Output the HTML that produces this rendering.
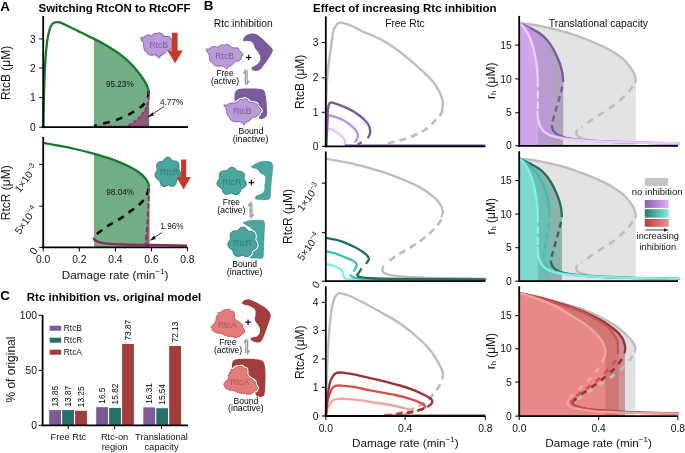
<!DOCTYPE html>
<html><head><meta charset="utf-8"><style>
html,body{margin:0;padding:0;background:#fff;}
svg{display:block;will-change:transform;}
text{font-family:"Liberation Sans", sans-serif;}
</style></head><body>
<svg width="685" height="453" viewBox="0 0 685 453">
<rect width="685" height="453" fill="#fff"/>
<path d="M94.00,38.85 C94.02,38.86 92.40,38.01 94.10,38.90 C95.80,39.79 101.05,42.43 104.20,44.20 C107.35,45.97 110.07,47.60 113.00,49.50 C115.93,51.40 118.85,53.25 121.80,55.60 C124.75,57.95 128.05,60.95 130.70,63.60 C133.35,66.25 135.65,69.00 137.70,71.50 C139.75,74.00 141.52,76.38 143.00,78.60 C144.48,80.82 145.67,82.82 146.60,84.80 C147.53,86.78 148.27,89.55 148.60,90.50 L149.0,91 L149.0,127 L94.0,127 Z" stroke="none" stroke-width="1" fill="#72ad86" />
<path d="M148.60,91.00 C148.57,92.50 148.92,97.00 148.40,100.00 C147.88,103.00 146.90,106.25 145.50,109.00 C144.10,111.75 142.00,114.25 140.00,116.50 C138.00,118.75 135.67,120.88 133.50,122.50 C131.33,124.12 128.08,125.58 127.00,126.20 L149.2,127 L149.2,91 Z" stroke="none" stroke-width="1" fill="#8a5b78" />
<path d="M43.40,127.00 C43.47,122.50 43.60,108.67 43.80,100.00 C44.00,91.33 44.30,82.17 44.60,75.00 C44.90,67.83 45.27,61.83 45.60,57.00 C45.93,52.17 46.27,49.08 46.60,46.00 C46.93,42.92 47.23,40.72 47.60,38.50 C47.97,36.28 48.30,34.65 48.80,32.70 C49.30,30.75 49.87,28.38 50.60,26.80 C51.33,25.22 52.17,23.97 53.20,23.20 C54.23,22.43 55.58,22.30 56.80,22.20 C58.02,22.10 58.50,21.88 60.50,22.60 C62.50,23.32 65.93,25.12 68.80,26.50 C71.67,27.88 74.75,29.43 77.70,30.90 C80.65,32.37 83.77,33.97 86.50,35.30 C89.23,36.63 91.15,37.42 94.10,38.90 C97.05,40.38 101.05,42.43 104.20,44.20 C107.35,45.97 110.07,47.60 113.00,49.50 C115.93,51.40 118.85,53.25 121.80,55.60 C124.75,57.95 128.05,60.95 130.70,63.60 C133.35,66.25 135.65,69.00 137.70,71.50 C139.75,74.00 141.52,76.38 143.00,78.60 C144.48,80.82 145.67,82.82 146.60,84.80 C147.53,86.78 148.27,89.55 148.60,90.50" stroke="#17782f" stroke-width="2.3" fill="none" stroke-linecap="round"/>
<path d="M148.60,91.00 C148.50,92.00 148.57,95.07 148.00,97.00 C147.43,98.93 146.50,100.83 145.20,102.60 C143.90,104.37 142.22,106.03 140.20,107.60 C138.18,109.17 135.22,110.72 133.10,112.00 C130.98,113.28 129.72,114.20 127.50,115.30 C125.28,116.40 122.00,117.67 119.80,118.60 C117.60,119.53 116.50,120.20 114.30,120.90 C112.10,121.60 108.82,122.25 106.60,122.80 C104.38,123.35 103.10,123.67 101.00,124.20 C98.90,124.73 95.17,125.70 94.00,126.00" stroke="#000" stroke-width="2.5" fill="none" stroke-dasharray="6.8 6.5"/>
<path d="M148.60,91.00 C148.57,92.50 148.92,97.00 148.40,100.00 C147.88,103.00 146.90,106.25 145.50,109.00 C144.10,111.75 142.00,114.25 140.00,116.50 C138.00,118.75 135.67,120.88 133.50,122.50 C131.33,124.12 128.08,125.58 127.00,126.20" stroke="#a02f6c" stroke-width="1.8" fill="none" stroke-dasharray="3.5 2"/>
<line x1="93.7" y1="126.2" x2="149" y2="126.2" stroke="#a02f6c" stroke-width="1.0" />
<line x1="149" y1="126.4" x2="188" y2="126.4" stroke="#a02f6c" stroke-width="0.8" />
<line x1="43.2" y1="16" x2="43.2" y2="128.1" stroke="#000" stroke-width="1.8" />
<line x1="39.2" y1="127.2" x2="43.2" y2="127.2" stroke="#000" stroke-width="1.0" />
<text x="35.800000000000004" y="130.8" font-size="10.3" text-anchor="end" font-weight="normal" fill="#111" >0</text>
<line x1="39.2" y1="97.6" x2="43.2" y2="97.6" stroke="#000" stroke-width="1.0" />
<text x="35.800000000000004" y="101.19999999999999" font-size="10.3" text-anchor="end" font-weight="normal" fill="#111" >1</text>
<line x1="39.2" y1="68" x2="43.2" y2="68" stroke="#000" stroke-width="1.0" />
<text x="35.800000000000004" y="71.6" font-size="10.3" text-anchor="end" font-weight="normal" fill="#111" >2</text>
<line x1="39.2" y1="38.9" x2="43.2" y2="38.9" stroke="#000" stroke-width="1.0" />
<text x="35.800000000000004" y="42.5" font-size="10.3" text-anchor="end" font-weight="normal" fill="#111" >3</text>
<line x1="42.300000000000004" y1="127.2" x2="188" y2="127.2" stroke="#000" stroke-width="1.8" />
<text x="9.8" y="73.0" font-size="12" text-anchor="middle" fill="#111" transform="rotate(-90 9.8 73.0)">RtcB (μM)</text>
<text x="38.5" y="12" font-size="11.5" text-anchor="start" font-weight="bold" fill="#000" >Switching RtcON to RtcOFF</text>
<text x="0.3" y="10.9" font-size="13.4" text-anchor="start" font-weight="bold" fill="#000" >A</text>
<text x="119.8" y="87.3" font-size="8.2" text-anchor="middle" font-weight="normal" fill="#111" >95.23%</text>
<text x="160" y="104.6" font-size="8.2" text-anchor="start" font-weight="normal" fill="#111" >4.77%</text>
<line x1="164" y1="106.5" x2="150" y2="115.8" stroke="#000" stroke-width="0.8" />
<path d="M147.5,117.3 L152.6,112.2 L153.6,115.4 Z" stroke="none" stroke-width="1" fill="#000" />
<path d="M94.00,153.82 C96.68,154.64 104.50,156.72 110.10,158.70 C115.70,160.68 122.93,163.52 127.60,165.70 C132.27,167.88 135.18,169.77 138.10,171.80 C141.02,173.83 143.43,176.03 145.10,177.90 C146.77,179.77 147.45,181.38 148.10,183.00 C148.75,184.62 148.85,186.83 149.00,187.60 L149.2,247.4 L94.0,247.4 Z" stroke="none" stroke-width="1" fill="#72ad86" />
<path d="M149.00,188.00 C148.90,190.83 148.65,199.33 148.40,205.00 C148.15,210.67 147.83,217.00 147.50,222.00 C147.17,227.00 146.75,231.03 146.40,235.00 C146.05,238.97 145.57,244.00 145.40,245.80 L145.2,247.4 L149.4,247.4 L149.4,188 Z" stroke="none" stroke-width="1" fill="#8a5b78" />
<path d="M43.50,142.90 C45.83,143.33 52.25,144.48 57.50,145.50 C62.75,146.52 69.15,147.68 75.00,149.00 C80.85,150.32 86.75,151.78 92.60,153.40 C98.45,155.02 104.27,156.65 110.10,158.70 C115.93,160.75 122.93,163.52 127.60,165.70 C132.27,167.88 135.18,169.77 138.10,171.80 C141.02,173.83 143.43,176.03 145.10,177.90 C146.77,179.77 147.45,181.38 148.10,183.00 C148.75,184.62 148.85,186.83 149.00,187.60" stroke="#17782f" stroke-width="2.3" fill="none" />
<path d="M148.80,188.50 C148.47,189.55 147.65,192.87 146.80,194.80 C145.95,196.73 145.12,198.32 143.70,200.10 C142.28,201.88 140.23,203.83 138.30,205.50 C136.37,207.17 134.03,208.68 132.10,210.10 C130.17,211.52 128.50,212.70 126.70,214.00 C124.90,215.30 123.23,216.62 121.30,217.90 C119.37,219.18 117.03,220.55 115.10,221.70 C113.17,222.85 111.50,223.63 109.70,224.80 C107.90,225.97 105.97,227.53 104.30,228.70 C102.63,229.87 101.33,230.58 99.70,231.80 C98.07,233.02 95.53,235.05 94.50,236.00 C93.47,236.95 93.67,237.25 93.50,237.50" stroke="#000" stroke-width="2.5" fill="none" stroke-dasharray="6.8 6"/>
<path d="M93.60,237.50 C93.83,237.95 94.02,239.40 95.00,240.20 C95.98,241.00 97.50,241.73 99.50,242.30 C101.50,242.87 102.75,243.23 107.00,243.60 C111.25,243.97 117.83,244.27 125.00,244.50 C132.17,244.73 139.67,244.82 150.00,245.00 C160.33,245.18 180.83,245.50 187.00,245.60" stroke="#8c2c62" stroke-width="2.4" fill="none" />
<path d="M149.00,188.00 C148.90,190.83 148.65,199.33 148.40,205.00 C148.15,210.67 147.83,217.00 147.50,222.00 C147.17,227.00 146.75,231.03 146.40,235.00 C146.05,238.97 145.57,244.00 145.40,245.80" stroke="#962c68" stroke-width="2.0" fill="none" stroke-dasharray="5 2.8"/>
<line x1="43.2" y1="137" x2="43.2" y2="248.3" stroke="#000" stroke-width="1.8" />
<line x1="39.2" y1="247.4" x2="43.2" y2="247.4" stroke="#000" stroke-width="1.0" />
<line x1="39.2" y1="206.2" x2="43.2" y2="206.2" stroke="#000" stroke-width="1.0" />
<line x1="39.2" y1="164.4" x2="43.2" y2="164.4" stroke="#000" stroke-width="1.0" />
<line x1="42.300000000000004" y1="247.4" x2="187.5" y2="247.4" stroke="#000" stroke-width="1.8" />
<line x1="43.2" y1="247.4" x2="43.2" y2="251.4" stroke="#000" stroke-width="1.0" />
<text x="43.2" y="262.9" font-size="10.3" text-anchor="middle" font-weight="normal" fill="#111" >0.0</text>
<line x1="79.3" y1="247.4" x2="79.3" y2="251.4" stroke="#000" stroke-width="1.0" />
<text x="79.3" y="262.9" font-size="10.3" text-anchor="middle" font-weight="normal" fill="#111" >0.2</text>
<line x1="115.4" y1="247.4" x2="115.4" y2="251.4" stroke="#000" stroke-width="1.0" />
<text x="115.4" y="262.9" font-size="10.3" text-anchor="middle" font-weight="normal" fill="#111" >0.4</text>
<line x1="151.5" y1="247.4" x2="151.5" y2="251.4" stroke="#000" stroke-width="1.0" />
<text x="151.5" y="262.9" font-size="10.3" text-anchor="middle" font-weight="normal" fill="#111" >0.6</text>
<line x1="187.4" y1="247.4" x2="187.4" y2="251.4" stroke="#000" stroke-width="1.0" />
<text x="187.4" y="262.9" font-size="10.3" text-anchor="middle" font-weight="normal" fill="#111" >0.8</text>
<text x="10.3" y="192.8" font-size="12" text-anchor="middle" fill="#111" transform="rotate(-90 10.3 192.8)">RtcR (μM)</text>
<text x="38" y="167.5" font-size="10.3" text-anchor="end" fill="#111" transform="rotate(-55 38 167.5)">1×10<tspan font-size="7.2" dy="-4">−3</tspan></text>
<text x="38" y="209.3" font-size="10.3" text-anchor="end" fill="#111" transform="rotate(-55 38 209.3)">5×10<tspan font-size="7.2" dy="-4">−4</tspan></text>
<text x="38" y="250.5" font-size="10.3" text-anchor="end" fill="#111" transform="rotate(-55 38 250.5)">0<tspan font-size="7.2" dy="-4"></tspan></text>
<text x="115" y="278.5" font-size="11.7" text-anchor="middle" fill="#111">Damage rate (min<tspan font-size="8" dy="-4.5">−1</tspan><tspan dy="4.5">)</tspan></text>
<text x="120.2" y="195.4" font-size="8.2" text-anchor="middle" font-weight="normal" fill="#111" >98.04%</text>
<text x="160.3" y="228.6" font-size="8.2" text-anchor="start" font-weight="normal" fill="#111" >1.96%</text>
<line x1="162" y1="232.5" x2="152" y2="239.2" stroke="#000" stroke-width="0.8" />
<path d="M149.6,240.8 L154.3,235.6 L155.6,238.9 Z" stroke="none" stroke-width="1" fill="#000" />
<rect x="49.20" y="410.06" width="11.8" height="15.24" fill="#7e5a98"/>
<text x="57.90" y="406.56" font-size="8.3" text-anchor="start" fill="#000" transform="rotate(-90 57.90 406.56)">13.85</text>
<rect x="62.15" y="410.04" width="11.8" height="15.26" fill="#26706a"/>
<text x="70.85" y="406.54" font-size="8.3" text-anchor="start" fill="#000" transform="rotate(-90 70.85 406.54)">13.87</text>
<rect x="75.10" y="410.73" width="11.8" height="14.57" fill="#a23d3c"/>
<text x="83.80" y="407.23" font-size="8.3" text-anchor="start" fill="#000" transform="rotate(-90 83.80 407.23)">13.25</text>
<rect x="96.20" y="407.15" width="11.8" height="18.15" fill="#7e5a98"/>
<text x="104.90" y="403.65" font-size="8.3" text-anchor="start" fill="#000" transform="rotate(-90 104.90 403.65)">16.5</text>
<rect x="109.15" y="407.90" width="11.8" height="17.40" fill="#26706a"/>
<text x="117.85" y="404.40" font-size="8.3" text-anchor="start" fill="#000" transform="rotate(-90 117.85 404.40)">15.82</text>
<rect x="122.10" y="344.04" width="11.8" height="81.26" fill="#a23d3c"/>
<text x="130.80" y="340.54" font-size="8.3" text-anchor="start" fill="#000" transform="rotate(-90 130.80 340.54)">73.87</text>
<rect x="143.30" y="407.36" width="11.8" height="17.94" fill="#7e5a98"/>
<text x="152.00" y="403.86" font-size="8.3" text-anchor="start" fill="#000" transform="rotate(-90 152.00 403.86)">16.31</text>
<rect x="156.25" y="408.21" width="11.8" height="17.09" fill="#26706a"/>
<text x="164.95" y="404.71" font-size="8.3" text-anchor="start" fill="#000" transform="rotate(-90 164.95 404.71)">15.54</text>
<rect x="169.20" y="345.96" width="11.8" height="79.34" fill="#a23d3c"/>
<text x="177.90" y="342.46" font-size="8.3" text-anchor="start" fill="#000" transform="rotate(-90 177.90 342.46)">72.13</text>
<line x1="42.6" y1="315" x2="42.6" y2="426.2" stroke="#000" stroke-width="1.8" />
<line x1="38.6" y1="425.3" x2="42.6" y2="425.3" stroke="#000" stroke-width="1.0" />
<text x="37.0" y="428.90000000000003" font-size="10.3" text-anchor="end" font-weight="normal" fill="#111" >0</text>
<line x1="38.6" y1="370.3" x2="42.6" y2="370.3" stroke="#000" stroke-width="1.0" />
<text x="37.0" y="373.90000000000003" font-size="10.3" text-anchor="end" font-weight="normal" fill="#111" >50</text>
<line x1="38.6" y1="315.3" x2="42.6" y2="315.3" stroke="#000" stroke-width="1.0" />
<text x="37.0" y="318.90000000000003" font-size="10.3" text-anchor="end" font-weight="normal" fill="#111" >100</text>
<line x1="41.7" y1="425.3" x2="188" y2="425.3" stroke="#000" stroke-width="1.8" />
<line x1="68.3" y1="425.3" x2="68.3" y2="429" stroke="#000" stroke-width="1.0" />
<line x1="114.6" y1="425.3" x2="114.6" y2="429" stroke="#000" stroke-width="1.0" />
<line x1="161.5" y1="425.3" x2="161.5" y2="429" stroke="#000" stroke-width="1.0" />
<text x="68.3" y="440" font-size="9.3" text-anchor="middle" font-weight="normal" fill="#111" >Free Rtc</text>
<text x="114.6" y="440" font-size="9.3" text-anchor="middle" font-weight="normal" fill="#111" >Rtc-on</text>
<text x="114.6" y="450.2" font-size="9.3" text-anchor="middle" font-weight="normal" fill="#111" >region</text>
<text x="161.5" y="440" font-size="9.3" text-anchor="middle" font-weight="normal" fill="#111" >Translational</text>
<text x="161.5" y="450.2" font-size="9.3" text-anchor="middle" font-weight="normal" fill="#111" >capacity</text>
<text x="15.3" y="369.6" font-size="12" text-anchor="middle" fill="#111" transform="rotate(-90 15.3 369.6)">% of original</text>
<text x="26.8" y="300.9" font-size="11.5" text-anchor="start" font-weight="bold" fill="#000" >Rtc inhibition vs. original model</text>
<text x="0.3" y="299.8" font-size="13.4" text-anchor="start" font-weight="bold" fill="#000" >C</text>
<rect x="49.7" y="325.7" width="11.5" height="5" fill="#7e5a98"/>
<text x="63.8" y="331.09999999999997" font-size="8.4" text-anchor="start" font-weight="normal" fill="#111" >RtcB</text>
<rect x="49.7" y="337.7" width="11.5" height="5" fill="#26706a"/>
<text x="63.8" y="343.09999999999997" font-size="8.4" text-anchor="start" font-weight="normal" fill="#111" >RtcR</text>
<rect x="49.7" y="349.7" width="11.5" height="5" fill="#a23d3c"/>
<text x="63.8" y="355.09999999999997" font-size="8.4" text-anchor="start" font-weight="normal" fill="#111" >RtcA</text>
<path d="M325.80,146.00 C325.83,140.00 325.90,118.67 326.00,110.00 C326.10,101.33 326.12,100.33 326.40,94.00 C326.68,87.67 327.12,78.50 327.70,72.00 C328.28,65.50 329.23,60.08 329.90,55.00 C330.57,49.92 331.18,45.22 331.70,41.50 C332.22,37.78 332.42,35.20 333.00,32.70 C333.58,30.20 334.23,28.12 335.20,26.50 C336.17,24.88 337.62,23.62 338.80,23.00 C339.98,22.38 340.68,22.52 342.30,22.80 C343.92,23.08 346.28,23.87 348.50,24.70 C350.72,25.53 353.35,26.70 355.60,27.80 C357.85,28.90 358.00,29.47 362.00,31.30 C366.00,33.13 374.10,35.97 379.60,38.80 C385.10,41.63 390.03,44.82 395.00,48.30 C399.97,51.78 404.90,55.98 409.40,59.70 C413.90,63.42 418.03,66.88 422.00,70.60 C425.97,74.32 430.28,78.43 433.20,82.00 C436.12,85.57 437.97,89.00 439.50,92.00 C441.03,95.00 441.85,97.83 442.40,100.00 C442.95,102.17 442.83,103.50 442.80,105.00 C442.77,106.50 442.30,108.33 442.20,109.00" stroke="#bdbdbd" stroke-width="2.35" fill="none" stroke-linecap="round" stroke-linejoin="round"/>
<path d="M442.50,109.60 C442.00,110.75 440.92,114.52 439.50,116.50 C438.08,118.48 435.82,119.72 434.00,121.50 C432.18,123.28 431.32,125.15 428.60,127.20 C425.88,129.25 421.80,131.80 417.70,133.80 C413.60,135.80 408.45,137.73 404.00,139.20 C399.55,140.67 394.67,141.67 391.00,142.60 C387.33,143.53 383.50,144.43 382.00,144.80" stroke="#bdbdbd" stroke-width="2.6" fill="none" stroke-dasharray="7 5"/>
<path d="M326.20,146.00 C326.33,143.83 326.70,135.78 327.00,133.00 C327.30,130.22 327.40,129.95 328.00,129.30 C328.60,128.65 329.28,128.70 330.60,129.10 C331.92,129.50 334.13,130.60 335.90,131.70 C337.67,132.80 339.77,134.37 341.20,135.70 C342.63,137.03 343.88,138.27 344.50,139.70 C345.12,141.13 344.83,143.53 344.90,144.30" stroke="#e6c6fa" stroke-width="2.35" fill="none" stroke-linecap="round" stroke-linejoin="round"/>
<path d="M326.20,146.00 C326.33,143.00 326.77,132.67 327.00,128.00 C327.23,123.33 327.17,120.08 327.60,118.00 C328.03,115.92 328.22,115.63 329.60,115.50 C330.98,115.37 333.53,116.37 335.90,117.20 C338.27,118.03 341.37,119.18 343.80,120.50 C346.23,121.82 348.50,123.45 350.50,125.10 C352.50,126.75 354.60,128.85 355.80,130.40 C357.00,131.95 357.42,133.22 357.70,134.40 C357.98,135.58 357.87,136.28 357.50,137.50 C357.13,138.72 355.83,141.00 355.50,141.70" stroke="#c08ae8" stroke-width="2.35" fill="none" stroke-linecap="round" stroke-linejoin="round"/>
<path d="M326.20,146.00 C326.37,142.50 326.93,130.80 327.20,125.00 C327.47,119.20 327.53,114.57 327.80,111.20 C328.07,107.83 328.33,106.23 328.80,104.80 C329.27,103.37 329.87,102.93 330.60,102.60 C331.33,102.27 331.65,102.37 333.20,102.80 C334.75,103.23 337.68,104.35 339.90,105.20 C342.12,106.05 344.30,106.90 346.50,107.90 C348.70,108.90 350.90,109.88 353.10,111.20 C355.30,112.52 357.72,114.25 359.70,115.80 C361.68,117.35 363.45,118.83 365.00,120.50 C366.55,122.17 368.13,124.03 369.00,125.80 C369.87,127.57 370.08,129.67 370.20,131.10 C370.32,132.53 370.02,133.35 369.70,134.40 C369.38,135.45 368.53,136.90 368.30,137.40" stroke="#7b589d" stroke-width="2.35" fill="none" stroke-linecap="round" stroke-linejoin="round"/>
<path d="M357.7,144.6 L361.7,142.2" stroke="#7b589d" stroke-width="2.35" fill="none" stroke-dasharray="6 3"/>
<line x1="345" y1="145.2" x2="485.3" y2="145.2" stroke="#6a4a88" stroke-width="1.6" />
<line x1="325.8" y1="16.4" x2="325.8" y2="147.20000000000002" stroke="#000" stroke-width="1.8" />
<line x1="321.8" y1="146.3" x2="325.8" y2="146.3" stroke="#000" stroke-width="1.0" />
<text x="318.40000000000003" y="149.9" font-size="10.3" text-anchor="end" font-weight="normal" fill="#111" >0</text>
<line x1="321.8" y1="112.3" x2="325.8" y2="112.3" stroke="#000" stroke-width="1.0" />
<text x="318.40000000000003" y="115.89999999999999" font-size="10.3" text-anchor="end" font-weight="normal" fill="#111" >1</text>
<line x1="321.8" y1="77.8" x2="325.8" y2="77.8" stroke="#000" stroke-width="1.0" />
<text x="318.40000000000003" y="81.39999999999999" font-size="10.3" text-anchor="end" font-weight="normal" fill="#111" >2</text>
<line x1="321.8" y1="42.5" x2="325.8" y2="42.5" stroke="#000" stroke-width="1.0" />
<text x="318.40000000000003" y="46.1" font-size="10.3" text-anchor="end" font-weight="normal" fill="#111" >3</text>
<line x1="324.90000000000003" y1="146.3" x2="485.3" y2="146.3" stroke="#000" stroke-width="1.8" />
<text x="304.5" y="81.8" font-size="12" text-anchor="middle" fill="#111" transform="rotate(-90 304.5 81.8)">RtcB (μM)</text>
<text x="404.9" y="26.9" font-size="10.3" text-anchor="middle" font-weight="normal" fill="#111" >Free Rtc</text>
<text x="313.1" y="12" font-size="11.5" text-anchor="start" font-weight="bold" fill="#000" >Effect of increasing Rtc inhibition</text>
<text x="203.8" y="10.0" font-size="13.4" text-anchor="start" font-weight="bold" fill="#000" >B</text>
<path d="M325.80,158.90 C329.83,159.62 340.97,161.15 350.00,163.20 C359.03,165.25 371.67,168.68 380.00,171.20 C388.33,173.72 393.33,175.60 400.00,178.30 C406.67,181.00 414.50,184.38 420.00,187.40 C425.50,190.42 429.67,193.63 433.00,196.40 C436.33,199.17 438.40,201.73 440.00,204.00 C441.60,206.27 442.18,208.33 442.60,210.00 C443.02,211.67 442.68,212.92 442.50,214.00 C442.32,215.08 441.67,216.08 441.50,216.50" stroke="#bdbdbd" stroke-width="2.35" fill="none" stroke-linecap="round" stroke-linejoin="round"/>
<path d="M441.50,219.50 C440.72,220.58 438.85,223.62 436.80,226.00 C434.75,228.38 431.88,231.35 429.20,233.80 C426.52,236.25 423.98,238.35 420.70,240.70 C417.42,243.05 413.45,245.43 409.50,247.90 C405.55,250.37 400.75,253.07 397.00,255.50 C393.25,257.93 388.67,261.33 387.00,262.50" stroke="#bdbdbd" stroke-width="2.6" fill="none" stroke-dasharray="7 5"/>
<path d="M383.10,266.50 C382.98,267.13 382.08,269.17 382.40,270.30 C382.72,271.43 382.90,272.38 385.00,273.30 C387.10,274.22 389.17,275.12 395.00,275.80 C400.83,276.48 410.83,277.00 420.00,277.40 C429.17,277.80 439.17,277.93 450.00,278.20 C460.83,278.47 479.17,278.87 485.00,279.00" stroke="#bdbdbd" stroke-width="2.35" fill="none" stroke-linecap="round" stroke-linejoin="round"/>
<path d="M326.00,264.00 C327.17,264.25 330.75,264.75 333.00,265.50 C335.25,266.25 337.90,267.50 339.50,268.50 C341.10,269.50 341.95,270.38 342.60,271.50 C343.25,272.62 342.92,274.07 343.40,275.20 C343.88,276.33 344.07,277.62 345.50,278.30 C346.93,278.98 342.92,279.07 352.00,279.30 C361.08,279.53 377.83,279.62 400.00,279.70 C422.17,279.78 470.83,279.78 485.00,279.80" stroke="#82efe7" stroke-width="2.35" fill="none" stroke-linecap="round" stroke-linejoin="round"/>
<path d="M326.00,251.20 C327.50,251.57 331.83,252.38 335.00,253.40 C338.17,254.42 342.17,256.15 345.00,257.30 C347.83,258.45 350.12,259.25 352.00,260.30 C353.88,261.35 355.63,262.45 356.30,263.60 C356.97,264.75 356.38,266.03 356.00,267.20 C355.62,268.37 354.33,270.03 354.00,270.60" stroke="#3ebfb3" stroke-width="2.35" fill="none" stroke-linecap="round" stroke-linejoin="round"/>
<path d="M350.50,275.30 C351.08,275.65 352.08,276.85 354.00,277.40 C355.92,277.95 354.33,278.30 362.00,278.60 C369.67,278.90 379.50,279.03 400.00,279.20 C420.50,279.37 470.83,279.53 485.00,279.60" stroke="#3ebfb3" stroke-width="2.35" fill="none" stroke-linecap="round" stroke-linejoin="round"/>
<path d="M326.00,237.90 C328.33,238.40 335.17,239.33 340.00,240.90 C344.83,242.47 351.25,245.48 355.00,247.30 C358.75,249.12 360.42,250.35 362.50,251.80 C364.58,253.25 366.45,254.72 367.50,256.00 C368.55,257.28 368.97,258.33 368.80,259.50 C368.63,260.67 366.88,262.42 366.50,263.00" stroke="#226e66" stroke-width="2.35" fill="none" stroke-linecap="round" stroke-linejoin="round"/>
<path d="M357.00,275.00 C357.50,275.37 357.83,276.67 360.00,277.20 C362.17,277.73 363.33,277.92 370.00,278.20 C376.67,278.48 380.83,278.70 400.00,278.90 C419.17,279.10 470.83,279.32 485.00,279.40" stroke="#226e66" stroke-width="2.35" fill="none" stroke-linecap="round" stroke-linejoin="round"/>
<path d="M361.5,268.3 L357.6,274.8" stroke="#226e66" stroke-width="2.35" fill="none" stroke-dasharray="7 3"/>
<line x1="325.8" y1="151.5" x2="325.8" y2="282.09999999999997" stroke="#000" stroke-width="1.8" />
<line x1="321.8" y1="281.2" x2="325.8" y2="281.2" stroke="#000" stroke-width="1.0" />
<line x1="321.8" y1="232.7" x2="325.8" y2="232.7" stroke="#000" stroke-width="1.0" />
<line x1="321.8" y1="183.2" x2="325.8" y2="183.2" stroke="#000" stroke-width="1.0" />
<line x1="324.90000000000003" y1="281.2" x2="485.3" y2="281.2" stroke="#000" stroke-width="1.8" />
<text x="291.8" y="216.5" font-size="12" text-anchor="middle" fill="#111" transform="rotate(-90 291.8 216.5)">RtcR (μM)</text>
<text x="320.5" y="186.3" font-size="10.3" text-anchor="end" fill="#111" transform="rotate(-55 320.5 186.3)">1×10<tspan font-size="7.2" dy="-4">−3</tspan></text>
<text x="320.5" y="235.8" font-size="10.3" text-anchor="end" fill="#111" transform="rotate(-55 320.5 235.8)">5×10<tspan font-size="7.2" dy="-4">−4</tspan></text>
<text x="320.5" y="284.3" font-size="10.3" text-anchor="end" fill="#111" transform="rotate(-55 320.5 284.3)">0<tspan font-size="7.2" dy="-4"></tspan></text>
<path d="M325.80,416.00 C325.88,412.50 326.02,404.33 326.30,395.00 C326.58,385.67 326.97,371.17 327.50,360.00 C328.03,348.83 328.75,336.83 329.50,328.00 C330.25,319.17 331.08,312.17 332.00,307.00 C332.92,301.83 334.00,299.23 335.00,297.00 C336.00,294.77 337.00,294.22 338.00,293.60 C339.00,292.98 339.00,292.90 341.00,293.30 C343.00,293.70 346.00,294.30 350.00,296.00 C354.00,297.70 360.00,300.87 365.00,303.50 C370.00,306.13 374.17,308.47 380.00,311.80 C385.83,315.13 393.33,318.88 400.00,323.50 C406.67,328.12 414.67,334.67 420.00,339.50 C425.33,344.33 428.83,348.42 432.00,352.50 C435.17,356.58 437.27,360.92 439.00,364.00 C440.73,367.08 441.77,369.17 442.40,371.00 C443.03,372.83 442.82,373.75 442.80,375.00 C442.78,376.25 442.38,377.92 442.30,378.50" stroke="#bdbdbd" stroke-width="2.35" fill="none" stroke-linecap="round" stroke-linejoin="round"/>
<path d="M440.30,384.50 C439.67,385.42 438.55,387.42 436.50,390.00 C434.45,392.58 431.25,397.17 428.00,400.00 C424.75,402.83 421.17,405.00 417.00,407.00 C412.83,409.00 407.50,410.73 403.00,412.00 C398.50,413.27 393.50,414.02 390.00,414.60 C386.50,415.18 383.33,415.35 382.00,415.50" stroke="#bdbdbd" stroke-width="2.6" fill="none" stroke-dasharray="7 5"/>
<path d="M325.90,416.00 C326.13,414.83 326.62,411.05 327.30,409.00 C327.98,406.95 328.90,405.23 330.00,403.70 C331.10,402.17 332.37,400.62 333.90,399.80 C335.43,398.98 336.77,398.92 339.20,398.80 C341.63,398.68 344.75,398.83 348.50,399.10 C352.25,399.37 358.12,399.95 361.70,400.40 C365.28,400.85 365.28,401.03 370.00,401.80 C374.72,402.57 384.50,404.00 390.00,405.00 C395.50,406.00 399.58,407.00 403.00,407.80 C406.42,408.60 408.93,409.22 410.50,409.80 C412.07,410.38 412.48,410.80 412.40,411.30 C412.32,411.80 411.23,412.38 410.00,412.80 C408.77,413.22 405.83,413.63 405.00,413.80" stroke="#f7a2a2" stroke-width="2.35" fill="none" stroke-linecap="round" stroke-linejoin="round"/>
<path d="M325.90,416.00 C326.13,413.73 326.62,406.22 327.30,402.40 C327.98,398.58 329.12,395.53 330.00,393.10 C330.88,390.67 331.50,389.03 332.60,387.80 C333.70,386.57 335.05,386.07 336.60,385.70 C338.15,385.33 338.82,385.35 341.90,385.60 C344.98,385.85 351.80,386.72 355.10,387.20 C358.40,387.68 359.22,387.98 361.70,388.50 C364.18,389.02 364.45,389.22 370.00,390.30 C375.55,391.38 388.33,393.58 395.00,395.00 C401.67,396.42 405.83,397.53 410.00,398.80 C414.17,400.07 417.53,401.43 420.00,402.60 C422.47,403.77 424.30,404.77 424.80,405.80 C425.30,406.83 424.13,408.00 423.00,408.80 C421.87,409.60 418.83,410.30 418.00,410.60" stroke="#d64f4f" stroke-width="2.35" fill="none" stroke-linecap="round" stroke-linejoin="round"/>
<path d="M413.00,412.00 C411.17,412.33 405.83,413.42 402.00,414.00 C398.17,414.58 392.00,415.25 390.00,415.50" stroke="#d64f4f" stroke-width="2.35" fill="none" stroke-dasharray="6.5 4.5"/>
<path d="M325.90,416.00 C326.00,414.67 326.15,411.82 326.50,408.00 C326.85,404.18 327.42,397.35 328.00,393.10 C328.58,388.85 329.23,385.25 330.00,382.50 C330.77,379.75 331.50,378.20 332.60,376.60 C333.70,375.00 335.05,373.57 336.60,372.90 C338.15,372.23 338.82,372.32 341.90,372.60 C344.98,372.88 351.80,374.00 355.10,374.60 C358.40,375.20 357.55,375.25 361.70,376.20 C365.85,377.15 373.62,378.75 380.00,380.30 C386.38,381.85 394.17,383.78 400.00,385.50 C405.83,387.22 410.83,388.97 415.00,390.60 C419.17,392.23 422.33,393.90 425.00,395.30 C427.67,396.70 429.78,397.97 431.00,399.00 C432.22,400.03 432.30,400.62 432.30,401.50 C432.30,402.38 431.72,403.48 431.00,404.30 C430.28,405.12 428.50,406.05 428.00,406.40" stroke="#983434" stroke-width="2.35" fill="none" stroke-linecap="round" stroke-linejoin="round"/>
<path d="M424.00,408.60 C422.00,409.13 416.17,410.90 412.00,411.80 C407.83,412.70 403.33,413.38 399.00,414.00 C394.67,414.62 388.17,415.25 386.00,415.50" stroke="#983434" stroke-width="2.35" fill="none" stroke-dasharray="6.5 4.5"/>
<line x1="384" y1="414.9" x2="485" y2="414.9" stroke="#c85858" stroke-width="1.0" />
<line x1="325.8" y1="286.2" x2="325.8" y2="416.9" stroke="#000" stroke-width="1.8" />
<line x1="321.8" y1="416" x2="325.8" y2="416" stroke="#000" stroke-width="1.0" />
<text x="318.40000000000003" y="419.6" font-size="10.3" text-anchor="end" font-weight="normal" fill="#111" >0</text>
<line x1="321.8" y1="387.3" x2="325.8" y2="387.3" stroke="#000" stroke-width="1.0" />
<text x="318.40000000000003" y="390.90000000000003" font-size="10.3" text-anchor="end" font-weight="normal" fill="#111" >1</text>
<line x1="321.8" y1="358.9" x2="325.8" y2="358.9" stroke="#000" stroke-width="1.0" />
<text x="318.40000000000003" y="362.5" font-size="10.3" text-anchor="end" font-weight="normal" fill="#111" >2</text>
<line x1="321.8" y1="330.4" x2="325.8" y2="330.4" stroke="#000" stroke-width="1.0" />
<text x="318.40000000000003" y="334.0" font-size="10.3" text-anchor="end" font-weight="normal" fill="#111" >3</text>
<line x1="321.8" y1="302.3" x2="325.8" y2="302.3" stroke="#000" stroke-width="1.0" />
<text x="318.40000000000003" y="305.90000000000003" font-size="10.3" text-anchor="end" font-weight="normal" fill="#111" >4</text>
<line x1="324.90000000000003" y1="416" x2="485.3" y2="416" stroke="#000" stroke-width="1.8" />
<line x1="325.8" y1="416" x2="325.8" y2="420" stroke="#000" stroke-width="1.0" />
<text x="325.8" y="431.5" font-size="10.3" text-anchor="middle" font-weight="normal" fill="#111" >0.0</text>
<line x1="405.1" y1="416" x2="405.1" y2="420" stroke="#000" stroke-width="1.0" />
<text x="405.1" y="431.5" font-size="10.3" text-anchor="middle" font-weight="normal" fill="#111" >0.4</text>
<line x1="485.3" y1="416" x2="485.3" y2="420" stroke="#000" stroke-width="1.0" />
<text x="485.3" y="431.5" font-size="10.3" text-anchor="middle" font-weight="normal" fill="#111" >0.8</text>
<text x="304.5" y="352.2" font-size="12" text-anchor="middle" fill="#111" transform="rotate(-90 304.5 352.2)">RtcA (μM)</text>
<text x="405.3" y="446.6" font-size="11.7" text-anchor="middle" fill="#111">Damage rate (min<tspan font-size="8" dy="-4.5">−1</tspan><tspan dy="4.5">)</tspan></text>
<path d="M519.50,23.20 C522.08,23.50 529.72,24.15 535.00,25.00 C540.28,25.85 545.70,27.00 551.20,28.30 C556.70,29.60 562.48,31.10 568.00,32.80 C573.52,34.50 579.30,36.60 584.30,38.50 C589.30,40.40 593.58,42.20 598.00,44.20 C602.42,46.20 606.80,48.20 610.80,50.50 C614.80,52.80 618.88,55.42 622.00,58.00 C625.12,60.58 627.52,63.50 629.50,66.00 C631.48,68.50 632.88,70.92 633.90,73.00 C634.92,75.08 635.33,77.00 635.60,78.50 C635.87,80.00 635.52,81.42 635.50,82.00 L635.8,82 L635.8,145.8 L519.3,145.8 Z" stroke="none" stroke-width="1" fill="#e2e2e2" />
<path d="M519.50,23.20 C521.25,24.00 526.57,26.28 529.98,28.00 C533.38,29.72 537.04,31.42 539.95,33.50 C542.86,35.58 545.27,38.00 547.44,40.50 C549.60,43.00 551.26,45.67 552.92,48.50 C554.59,51.33 556.12,54.58 557.41,57.50 C558.71,60.42 559.86,63.25 560.71,66.00 C561.55,68.75 562.09,71.50 562.50,74.00 C562.92,76.50 563.08,79.83 563.20,81.00 L563.2,81 L563.2,145.8 L519.3,145.8 Z" stroke="none" stroke-width="1" fill="#b0a1bc" />
<path d="M519.50,23.20 C520.92,24.13 525.27,26.67 528.03,28.80 C530.79,30.93 533.71,33.38 536.05,36.00 C538.39,38.62 540.35,41.50 542.07,44.50 C543.79,47.50 545.22,50.83 546.39,54.00 C547.56,57.17 548.41,60.50 549.09,63.50 C549.78,66.50 550.20,69.08 550.50,72.00 C550.80,74.92 550.83,79.50 550.90,81.00 L550.9,81 L550.9,145.8 L519.3,145.8 Z" stroke="none" stroke-width="1" fill="#b99ad1" />
<path d="M519.50,23.20 C520.42,24.17 523.25,26.53 525.00,29.00 C526.75,31.47 528.53,34.50 530.00,38.00 C531.47,41.50 532.77,46.00 533.80,50.00 C534.83,54.00 535.58,58.00 536.20,62.00 C536.82,66.00 537.22,70.00 537.50,74.00 C537.78,78.00 537.83,84.00 537.90,86.00 L538.1,86 L538.1,145.8 L519.3,145.8 Z" stroke="none" stroke-width="1" fill="#cfa7e7" />
<path d="M519.50,23.20 C522.08,23.50 529.72,24.15 535.00,25.00 C540.28,25.85 545.70,27.00 551.20,28.30 C556.70,29.60 562.48,31.10 568.00,32.80 C573.52,34.50 579.30,36.60 584.30,38.50 C589.30,40.40 593.58,42.20 598.00,44.20 C602.42,46.20 606.80,48.20 610.80,50.50 C614.80,52.80 618.88,55.42 622.00,58.00 C625.12,60.58 627.52,63.50 629.50,66.00 C631.48,68.50 632.88,70.92 633.90,73.00 C634.92,75.08 635.33,77.00 635.60,78.50 C635.87,80.00 635.52,81.42 635.50,82.00" stroke="#bdbdbd" stroke-width="2.35" fill="none" stroke-linecap="round" stroke-linejoin="round"/>
<path d="M632.80,86.20 C631.92,87.33 630.22,90.15 627.50,93.00 C624.78,95.85 620.25,100.25 616.50,103.30 C612.75,106.35 608.92,108.68 605.00,111.30 C601.08,113.92 596.97,116.33 593.00,119.00 C589.03,121.67 583.17,125.92 581.20,127.30" stroke="#bdbdbd" stroke-width="2.6" fill="none" stroke-dasharray="7 6"/>
<path d="M577.20,130.20 C577.05,130.77 576.03,132.47 576.30,133.60 C576.57,134.73 576.85,135.97 578.80,137.00 C580.75,138.03 583.63,139.05 588.00,139.80 C592.37,140.55 596.33,141.00 605.00,141.50 C613.67,142.00 627.75,142.47 640.00,142.80 C652.25,143.13 672.08,143.38 678.50,143.50" stroke="#bdbdbd" stroke-width="2.35" fill="none" stroke-linecap="round" stroke-linejoin="round"/>
<path d="M519.50,23.20 C521.25,24.00 526.57,26.28 529.98,28.00 C533.38,29.72 537.04,31.42 539.95,33.50 C542.86,35.58 545.27,38.00 547.44,40.50 C549.60,43.00 551.26,45.67 552.92,48.50 C554.59,51.33 556.12,54.58 557.41,57.50 C558.71,60.42 559.86,63.25 560.71,66.00 C561.55,68.75 562.09,71.50 562.50,74.00 C562.92,76.50 563.08,79.83 563.20,81.00" stroke="#7b589d" stroke-width="2.35" fill="none" stroke-linecap="round" stroke-linejoin="round"/>
<path d="M562.40,86.50 C561.99,88.08 560.91,92.42 559.91,96.00 C558.91,99.58 557.53,104.17 556.42,108.00 C555.30,111.83 553.97,116.00 553.22,119.00 C552.47,122.00 551.89,124.00 551.93,126.00 C551.96,128.00 553.17,130.17 553.42,131.00" stroke="#7b589d" stroke-width="2.35" fill="none" stroke-dasharray="6 4"/>
<path d="M553.42,131.00 C554.09,131.58 555.33,133.37 557.41,134.50 C559.49,135.63 561.30,136.82 565.89,137.80 C570.49,138.78 575.98,139.67 585.00,140.40 C594.02,141.13 604.42,141.67 620.00,142.20 C635.58,142.73 668.75,143.37 678.50,143.60" stroke="#7b589d" stroke-width="2.35" fill="none" stroke-linecap="round" stroke-linejoin="round"/>
<path d="M519.50,23.20 C520.92,24.13 525.27,26.67 528.03,28.80 C530.79,30.93 533.71,33.38 536.05,36.00 C538.39,38.62 540.35,41.50 542.07,44.50 C543.79,47.50 545.22,50.83 546.39,54.00 C547.56,57.17 548.41,60.50 549.09,63.50 C549.78,66.50 550.20,69.08 550.50,72.00 C550.80,74.92 550.83,79.50 550.90,81.00" stroke="#c78ff0" stroke-width="2.35" fill="none" stroke-linecap="round" stroke-linejoin="round"/>
<path d="M550.40,87.50 C550.10,89.25 549.23,94.25 548.59,98.00 C547.96,101.75 547.17,106.17 546.59,110.00 C546.00,113.83 545.25,118.17 545.08,121.00 C544.91,123.83 545.50,126.00 545.58,127.00" stroke="#c78ff0" stroke-width="2.35" fill="none" stroke-dasharray="6 4"/>
<path d="M545.58,127.00 C546.08,127.92 546.84,130.97 548.59,132.50 C550.35,134.03 551.72,135.02 556.12,136.20 C560.52,137.38 564.35,138.63 575.00,139.60 C585.65,140.57 602.75,141.35 620.00,142.00 C637.25,142.65 668.75,143.25 678.50,143.50" stroke="#c78ff0" stroke-width="2.35" fill="none" stroke-linecap="round" stroke-linejoin="round"/>
<path d="M519.50,23.20 C520.42,24.17 523.25,26.53 525.00,29.00 C526.75,31.47 528.53,34.50 530.00,38.00 C531.47,41.50 532.77,46.00 533.80,50.00 C534.83,54.00 535.58,58.00 536.20,62.00 C536.82,66.00 537.22,70.00 537.50,74.00 C537.78,78.00 537.83,84.00 537.90,86.00" stroke="#ecccff" stroke-width="2.35" fill="none" stroke-linecap="round" stroke-linejoin="round"/>
<path d="M537.90,90.50 C537.90,92.08 537.90,96.75 537.90,100.00 C537.90,103.25 537.90,108.33 537.90,110.00" stroke="#ecccff" stroke-width="2.35" fill="none" stroke-dasharray="8 3"/>
<path d="M537.60,112.00 C537.72,113.33 537.78,117.42 538.30,120.00 C538.82,122.58 539.50,125.37 540.70,127.50 C541.90,129.63 543.28,131.28 545.50,132.80 C547.72,134.32 549.92,135.48 554.00,136.60 C558.08,137.72 560.67,138.62 570.00,139.50 C579.33,140.38 591.92,141.28 610.00,141.90 C628.08,142.52 667.08,142.98 678.50,143.20" stroke="#ecccff" stroke-width="2.35" fill="none" stroke-linecap="round" stroke-linejoin="round"/>
<line x1="519.2" y1="15.9" x2="519.2" y2="146.70000000000002" stroke="#000" stroke-width="1.8" />
<line x1="515.2" y1="145.8" x2="519.2" y2="145.8" stroke="#000" stroke-width="1.0" />
<text x="511.80000000000007" y="149.4" font-size="10.3" text-anchor="end" font-weight="normal" fill="#111" >0</text>
<line x1="515.2" y1="112.7" x2="519.2" y2="112.7" stroke="#000" stroke-width="1.0" />
<text x="511.80000000000007" y="116.3" font-size="10.3" text-anchor="end" font-weight="normal" fill="#111" >5</text>
<line x1="515.2" y1="78.9" x2="519.2" y2="78.9" stroke="#000" stroke-width="1.0" />
<text x="511.80000000000007" y="82.5" font-size="10.3" text-anchor="end" font-weight="normal" fill="#111" >10</text>
<line x1="515.2" y1="45.1" x2="519.2" y2="45.1" stroke="#000" stroke-width="1.0" />
<text x="511.80000000000007" y="48.7" font-size="10.3" text-anchor="end" font-weight="normal" fill="#111" >15</text>
<line x1="518.3000000000001" y1="145.8" x2="678" y2="145.8" stroke="#000" stroke-width="1.8" />
<text x="598.4" y="26.9" font-size="10.3" text-anchor="middle" font-weight="normal" fill="#111" >Translational capacity</text>
<text x="494.6" y="80.8" font-size="12" text-anchor="middle" fill="#111" transform="rotate(-90 494.6 80.8)">r<tspan font-size="7.5" dy="1.5">h</tspan><tspan dy="-1.5"> (μM)</tspan></text>
<path d="M519.50,158.60 C522.08,158.90 529.72,159.55 535.00,160.40 C540.28,161.25 545.70,162.40 551.20,163.70 C556.70,165.00 562.48,166.50 568.00,168.20 C573.52,169.90 579.30,172.00 584.30,173.90 C589.30,175.80 593.58,177.60 598.00,179.60 C602.42,181.60 606.80,183.60 610.80,185.90 C614.80,188.20 618.88,190.82 622.00,193.40 C625.12,195.98 627.52,198.90 629.50,201.40 C631.48,203.90 632.88,206.32 633.90,208.40 C634.92,210.48 635.33,212.40 635.60,213.90 C635.87,215.40 635.52,216.82 635.50,217.40 L635.8,217.4 L635.8,281.2 L519.3,281.2 Z" stroke="none" stroke-width="1" fill="#e2e2e2" />
<path d="M519.50,158.60 C521.19,159.40 526.36,161.68 529.66,163.40 C532.97,165.12 536.52,166.82 539.34,168.90 C542.17,170.98 544.51,173.40 546.61,175.90 C548.70,178.40 550.32,181.07 551.93,183.90 C553.54,186.73 555.03,189.98 556.29,192.90 C557.54,195.82 558.66,198.65 559.48,201.40 C560.30,204.15 560.82,206.90 561.22,209.40 C561.63,211.90 561.79,215.23 561.90,216.40 L561.9,216.4 L561.9,281.2 L519.3,281.2 Z" stroke="none" stroke-width="1" fill="#8cb2ac" />
<path d="M519.50,158.60 C520.86,159.53 525.01,162.07 527.65,164.20 C530.28,166.33 533.08,168.78 535.31,171.40 C537.55,174.02 539.42,176.90 541.07,179.90 C542.71,182.90 544.07,186.23 545.19,189.40 C546.31,192.57 547.12,195.90 547.77,198.90 C548.43,201.90 548.83,204.48 549.12,207.40 C549.40,210.32 549.44,214.90 549.50,216.40 L549.5,216.4 L549.5,281.2 L519.3,281.2 Z" stroke="none" stroke-width="1" fill="#6cbdb2" />
<path d="M519.50,158.60 C520.42,159.57 523.25,161.93 525.00,164.40 C526.75,166.87 528.53,169.90 530.00,173.40 C531.47,176.90 532.77,181.40 533.80,185.40 C534.83,189.40 535.58,193.40 536.20,197.40 C536.82,201.40 537.22,205.40 537.50,209.40 C537.78,213.40 537.83,219.40 537.90,221.40 L538.1,221.4 L538.1,281.2 L519.3,281.2 Z" stroke="none" stroke-width="1" fill="#7dd8cc" />
<path d="M519.50,158.60 C522.08,158.90 529.72,159.55 535.00,160.40 C540.28,161.25 545.70,162.40 551.20,163.70 C556.70,165.00 562.48,166.50 568.00,168.20 C573.52,169.90 579.30,172.00 584.30,173.90 C589.30,175.80 593.58,177.60 598.00,179.60 C602.42,181.60 606.80,183.60 610.80,185.90 C614.80,188.20 618.88,190.82 622.00,193.40 C625.12,195.98 627.52,198.90 629.50,201.40 C631.48,203.90 632.88,206.32 633.90,208.40 C634.92,210.48 635.33,212.40 635.60,213.90 C635.87,215.40 635.52,216.82 635.50,217.40" stroke="#bdbdbd" stroke-width="2.35" fill="none" stroke-linecap="round" stroke-linejoin="round"/>
<path d="M632.80,221.60 C631.92,222.73 630.22,225.55 627.50,228.40 C624.78,231.25 620.25,235.65 616.50,238.70 C612.75,241.75 608.92,244.08 605.00,246.70 C601.08,249.32 596.97,251.73 593.00,254.40 C589.03,257.07 583.17,261.32 581.20,262.70" stroke="#bdbdbd" stroke-width="2.6" fill="none" stroke-dasharray="7 6"/>
<path d="M577.20,265.60 C577.05,266.17 576.03,267.87 576.30,269.00 C576.57,270.13 576.85,271.37 578.80,272.40 C580.75,273.43 583.63,274.45 588.00,275.20 C592.37,275.95 596.33,276.40 605.00,276.90 C613.67,277.40 627.75,277.87 640.00,278.20 C652.25,278.53 672.08,278.78 678.50,278.90" stroke="#bdbdbd" stroke-width="2.35" fill="none" stroke-linecap="round" stroke-linejoin="round"/>
<path d="M519.50,158.60 C521.19,159.40 526.36,161.68 529.66,163.40 C532.97,165.12 536.52,166.82 539.34,168.90 C542.17,170.98 544.51,173.40 546.61,175.90 C548.70,178.40 550.32,181.07 551.93,183.90 C553.54,186.73 555.03,189.98 556.29,192.90 C557.54,195.82 558.66,198.65 559.48,201.40 C560.30,204.15 560.82,206.90 561.22,209.40 C561.63,211.90 561.79,215.23 561.90,216.40" stroke="#226e66" stroke-width="2.35" fill="none" stroke-linecap="round" stroke-linejoin="round"/>
<path d="M561.13,221.90 C560.72,223.48 559.67,227.82 558.71,231.40 C557.74,234.98 556.40,239.57 555.32,243.40 C554.24,247.23 552.95,251.40 552.22,254.40 C551.49,257.40 550.93,259.40 550.96,261.40 C550.99,263.40 552.17,265.57 552.41,266.40" stroke="#226e66" stroke-width="2.35" fill="none" stroke-dasharray="6 4"/>
<path d="M552.41,266.40 C553.06,266.98 554.27,268.77 556.29,269.90 C558.30,271.03 559.73,272.22 564.51,273.20 C569.30,274.18 575.75,275.07 585.00,275.80 C594.25,276.53 604.42,277.07 620.00,277.60 C635.58,278.13 668.75,278.77 678.50,279.00" stroke="#226e66" stroke-width="2.35" fill="none" stroke-linecap="round" stroke-linejoin="round"/>
<path d="M519.50,158.60 C520.86,159.53 525.01,162.07 527.65,164.20 C530.28,166.33 533.08,168.78 535.31,171.40 C537.55,174.02 539.42,176.90 541.07,179.90 C542.71,182.90 544.07,186.23 545.19,189.40 C546.31,192.57 547.12,195.90 547.77,198.90 C548.43,201.90 548.83,204.48 549.12,207.40 C549.40,210.32 549.44,214.90 549.50,216.40" stroke="#3ebfb3" stroke-width="2.35" fill="none" stroke-linecap="round" stroke-linejoin="round"/>
<path d="M549.02,222.90 C548.73,224.65 547.90,229.65 547.30,233.40 C546.69,237.15 545.94,241.57 545.38,245.40 C544.82,249.23 544.10,253.57 543.94,256.40 C543.78,259.23 544.34,261.40 544.42,262.40" stroke="#3ebfb3" stroke-width="2.35" fill="none" stroke-dasharray="6 4"/>
<path d="M544.42,262.40 C544.90,263.32 545.62,266.37 547.30,267.90 C548.97,269.43 549.87,270.42 554.48,271.60 C559.10,272.78 564.08,274.03 575.00,275.00 C585.92,275.97 602.75,276.75 620.00,277.40 C637.25,278.05 668.75,278.65 678.50,278.90" stroke="#3ebfb3" stroke-width="2.35" fill="none" stroke-linecap="round" stroke-linejoin="round"/>
<path d="M519.50,158.60 C520.42,159.57 523.25,161.93 525.00,164.40 C526.75,166.87 528.53,169.90 530.00,173.40 C531.47,176.90 532.77,181.40 533.80,185.40 C534.83,189.40 535.58,193.40 536.20,197.40 C536.82,201.40 537.22,205.40 537.50,209.40 C537.78,213.40 537.83,219.40 537.90,221.40" stroke="#82efe7" stroke-width="2.35" fill="none" stroke-linecap="round" stroke-linejoin="round"/>
<path d="M537.90,225.90 C537.90,227.48 537.90,232.15 537.90,235.40 C537.90,238.65 537.90,243.73 537.90,245.40" stroke="#82efe7" stroke-width="2.35" fill="none" stroke-dasharray="8 3"/>
<path d="M537.60,247.40 C537.72,248.73 537.78,252.82 538.30,255.40 C538.82,257.98 539.50,260.77 540.70,262.90 C541.90,265.03 543.28,266.68 545.50,268.20 C547.72,269.72 549.92,270.88 554.00,272.00 C558.08,273.12 560.67,274.02 570.00,274.90 C579.33,275.78 591.92,276.68 610.00,277.30 C628.08,277.92 667.08,278.38 678.50,278.60" stroke="#82efe7" stroke-width="2.35" fill="none" stroke-linecap="round" stroke-linejoin="round"/>
<line x1="519.2" y1="151.3" x2="519.2" y2="282.09999999999997" stroke="#000" stroke-width="1.8" />
<line x1="515.2" y1="281.2" x2="519.2" y2="281.2" stroke="#000" stroke-width="1.0" />
<text x="511.80000000000007" y="284.8" font-size="10.3" text-anchor="end" font-weight="normal" fill="#111" >0</text>
<line x1="515.2" y1="247.7" x2="519.2" y2="247.7" stroke="#000" stroke-width="1.0" />
<text x="511.80000000000007" y="251.29999999999998" font-size="10.3" text-anchor="end" font-weight="normal" fill="#111" >5</text>
<line x1="515.2" y1="214.1" x2="519.2" y2="214.1" stroke="#000" stroke-width="1.0" />
<text x="511.80000000000007" y="217.7" font-size="10.3" text-anchor="end" font-weight="normal" fill="#111" >10</text>
<line x1="515.2" y1="180.6" x2="519.2" y2="180.6" stroke="#000" stroke-width="1.0" />
<text x="511.80000000000007" y="184.2" font-size="10.3" text-anchor="end" font-weight="normal" fill="#111" >15</text>
<line x1="518.3000000000001" y1="281.2" x2="678" y2="281.2" stroke="#000" stroke-width="1.8" />
<text x="494.6" y="216.2" font-size="12" text-anchor="middle" fill="#111" transform="rotate(-90 494.6 216.2)">r<tspan font-size="7.5" dy="1.5">h</tspan><tspan dy="-1.5"> (μM)</tspan></text>
<path d="M519.50,293.20 C522.42,293.77 531.08,295.28 537.00,296.60 C542.92,297.92 549.50,299.62 555.00,301.10 C560.50,302.58 565.27,304.07 570.00,305.50 C574.73,306.93 578.00,307.58 583.40,309.70 C588.80,311.82 597.47,315.82 602.40,318.20 C607.33,320.58 609.83,321.95 613.00,324.00 C616.17,326.05 618.90,328.42 621.40,330.50 C623.90,332.58 626.10,334.58 628.00,336.50 C629.90,338.42 631.58,340.15 632.80,342.00 C634.02,343.85 634.97,346.03 635.30,347.60 C635.63,349.17 634.88,350.77 634.80,351.40 L635.5,351.4 L635.5,416.1 L519.3,416.1 Z" stroke="none" stroke-width="1" fill="#e1e1e1" />
<path d="M519.50,293.20 C522.42,293.83 531.08,295.52 537.00,297.00 C542.92,298.48 549.50,300.52 555.00,302.10 C560.50,303.68 565.27,304.92 570.00,306.50 C574.73,308.08 578.00,309.17 583.40,311.60 C588.80,314.03 597.02,317.95 602.40,321.10 C607.78,324.25 612.68,328.10 615.70,330.50 C618.72,332.90 619.23,333.92 620.50,335.50 C621.77,337.08 622.52,337.98 623.30,340.00 C624.08,342.02 624.98,345.52 625.20,347.60 C625.42,349.68 624.70,351.68 624.60,352.50 L624.9,352.5 L624.9,416.1 L519.3,416.1 Z" stroke="none" stroke-width="1" fill="#c89494" />
<path d="M519.50,293.20 C522.42,293.90 531.08,295.80 537.00,297.40 C542.92,299.00 549.50,301.12 555.00,302.80 C560.50,304.48 565.27,305.88 570.00,307.50 C574.73,309.12 578.00,309.92 583.40,312.50 C588.80,315.08 598.13,320.42 602.40,323.00 C606.67,325.58 607.10,326.12 609.00,328.00 C610.90,329.88 612.47,332.30 613.80,334.30 C615.13,336.30 616.33,338.10 617.00,340.00 C617.67,341.90 617.67,343.53 617.80,345.70 C617.93,347.87 617.80,351.78 617.80,353.00 L618.8,353 L618.8,416.1 L519.3,416.1 Z" stroke="none" stroke-width="1" fill="#d17676" />
<path d="M519.50,293.20 C522.25,294.05 530.08,296.18 536.00,298.30 C541.92,300.42 548.67,302.73 555.00,305.90 C561.33,309.07 569.17,314.37 574.00,317.30 C578.83,320.23 580.85,321.30 584.00,323.50 C587.15,325.70 590.40,328.25 592.90,330.50 C595.40,332.75 597.42,335.10 599.00,337.00 C600.58,338.90 601.47,340.23 602.40,341.90 C603.33,343.57 604.12,345.42 604.60,347.00 C605.08,348.58 605.30,349.63 605.30,351.40 C605.30,353.17 604.72,356.57 604.60,357.60 L605.5,357.6 L605.5,416.1 L519.3,416.1 Z" stroke="none" stroke-width="1" fill="#e88888" />
<path d="M519.50,293.20 C522.42,293.77 531.08,295.28 537.00,296.60 C542.92,297.92 549.50,299.62 555.00,301.10 C560.50,302.58 565.27,304.07 570.00,305.50 C574.73,306.93 578.00,307.58 583.40,309.70 C588.80,311.82 597.47,315.82 602.40,318.20 C607.33,320.58 609.83,321.95 613.00,324.00 C616.17,326.05 618.90,328.42 621.40,330.50 C623.90,332.58 626.10,334.58 628.00,336.50 C629.90,338.42 631.58,340.15 632.80,342.00 C634.02,343.85 634.97,346.03 635.30,347.60 C635.63,349.17 634.88,350.77 634.80,351.40" stroke="#bdbdbd" stroke-width="2.35" fill="none" stroke-linecap="round" stroke-linejoin="round"/>
<path d="M632.60,356.00 C631.73,357.22 629.18,361.17 627.40,363.30 C625.62,365.43 624.75,366.42 621.90,368.80 C619.05,371.18 614.27,374.83 610.30,377.60 C606.33,380.37 601.97,382.82 598.10,385.40 C594.23,387.98 590.45,390.75 587.10,393.10 C583.75,395.45 579.93,398.02 578.00,399.50 C576.07,400.98 575.92,401.58 575.50,402.00" stroke="#bdbdbd" stroke-width="2.7" fill="none" stroke-dasharray="6 7"/>
<path d="M574.60,402.60 C574.50,402.92 573.40,403.78 574.00,404.50 C574.60,405.22 575.53,406.05 578.20,406.90 C580.87,407.75 583.03,408.78 590.00,409.60 C596.97,410.42 605.33,411.17 620.00,411.80 C634.67,412.43 668.33,413.13 678.00,413.40" stroke="#bdbdbd" stroke-width="2.35" fill="none" stroke-linecap="round" stroke-linejoin="round"/>
<path d="M519.50,293.20 C522.42,293.83 531.08,295.52 537.00,297.00 C542.92,298.48 549.50,300.52 555.00,302.10 C560.50,303.68 565.27,304.92 570.00,306.50 C574.73,308.08 578.00,309.17 583.40,311.60 C588.80,314.03 597.02,317.95 602.40,321.10 C607.78,324.25 612.68,328.10 615.70,330.50 C618.72,332.90 619.23,333.92 620.50,335.50 C621.77,337.08 622.52,337.98 623.30,340.00 C624.08,342.02 624.98,345.52 625.20,347.60 C625.42,349.68 624.70,351.68 624.60,352.50" stroke="#983434" stroke-width="2.35" fill="none" stroke-linecap="round" stroke-linejoin="round"/>
<path d="M621.80,359.00 C620.98,360.17 618.63,363.90 616.90,366.00 C615.17,368.10 614.07,369.20 611.40,371.60 C608.73,374.00 604.58,377.55 600.90,380.40 C597.22,383.25 593.08,386.03 589.30,388.70 C585.52,391.37 580.83,394.38 578.20,396.40 C575.57,398.42 574.28,400.07 573.50,400.80" stroke="#983434" stroke-width="2.7" fill="none" stroke-dasharray="6 6"/>
<path d="M572.90,401.80 C573.00,402.25 572.32,403.58 573.50,404.50 C574.68,405.42 576.42,406.38 580.00,407.30 C583.58,408.22 586.67,409.18 595.00,410.00 C603.33,410.82 616.17,411.62 630.00,412.20 C643.83,412.78 670.00,413.28 678.00,413.50" stroke="#983434" stroke-width="2.35" fill="none" stroke-linecap="round" stroke-linejoin="round"/>
<path d="M519.50,293.20 C522.42,293.90 531.08,295.80 537.00,297.40 C542.92,299.00 549.50,301.12 555.00,302.80 C560.50,304.48 565.27,305.88 570.00,307.50 C574.73,309.12 578.00,309.92 583.40,312.50 C588.80,315.08 598.13,320.42 602.40,323.00 C606.67,325.58 607.10,326.12 609.00,328.00 C610.90,329.88 612.47,332.30 613.80,334.30 C615.13,336.30 616.33,338.10 617.00,340.00 C617.67,341.90 617.67,343.53 617.80,345.70 C617.93,347.87 617.80,351.78 617.80,353.00" stroke="#d64f4f" stroke-width="2.35" fill="none" stroke-linecap="round" stroke-linejoin="round"/>
<path d="M615.80,360.00 C614.97,361.18 612.65,364.90 610.80,367.10 C608.95,369.30 607.37,370.62 604.70,373.20 C602.03,375.78 598.28,379.75 594.80,382.60 C591.32,385.45 587.57,387.45 583.80,390.30 C580.03,393.15 574.37,397.83 572.20,399.70 C570.03,401.57 571.03,401.20 570.80,401.50" stroke="#d64f4f" stroke-width="2.7" fill="none" stroke-dasharray="6 6"/>
<path d="M571.10,400.90 C571.33,401.50 571.02,403.38 572.50,404.50 C573.98,405.62 575.42,406.58 580.00,407.60 C584.58,408.62 590.00,409.73 600.00,410.60 C610.00,411.47 627.00,412.30 640.00,412.80 C653.00,413.30 671.67,413.47 678.00,413.60" stroke="#d64f4f" stroke-width="2.35" fill="none" stroke-linecap="round" stroke-linejoin="round"/>
<path d="M519.50,293.20 C522.25,294.05 530.08,296.18 536.00,298.30 C541.92,300.42 548.67,302.73 555.00,305.90 C561.33,309.07 569.17,314.37 574.00,317.30 C578.83,320.23 580.85,321.30 584.00,323.50 C587.15,325.70 590.40,328.25 592.90,330.50 C595.40,332.75 597.42,335.10 599.00,337.00 C600.58,338.90 601.47,340.23 602.40,341.90 C603.33,343.57 604.12,345.42 604.60,347.00 C605.08,348.58 605.30,349.63 605.30,351.40 C605.30,353.17 604.72,356.57 604.60,357.60" stroke="#f7a2a2" stroke-width="2.35" fill="none" stroke-linecap="round" stroke-linejoin="round"/>
<path d="M604.20,357.50 C603.55,358.83 602.23,362.42 600.30,365.50 C598.37,368.58 595.53,372.60 592.60,376.00 C589.67,379.40 586.02,382.78 582.70,385.90 C579.38,389.02 575.00,392.58 572.70,394.70 C570.40,396.82 569.53,397.95 568.90,398.60" stroke="#f7a2a2" stroke-width="2.7" fill="none" stroke-dasharray="5.5 6.5"/>
<path d="M569.40,399.10 C569.10,399.98 566.73,402.88 567.60,404.40 C568.47,405.92 570.48,407.07 574.60,408.20 C578.72,409.33 584.73,410.47 592.30,411.20 C599.87,411.93 605.72,412.18 620.00,412.60 C634.28,413.02 668.33,413.52 678.00,413.70" stroke="#f7a2a2" stroke-width="2.35" fill="none" stroke-linecap="round" stroke-linejoin="round"/>
<line x1="519.2" y1="286.2" x2="519.2" y2="417.0" stroke="#000" stroke-width="1.8" />
<line x1="515.2" y1="416.1" x2="519.2" y2="416.1" stroke="#000" stroke-width="1.0" />
<text x="511.80000000000007" y="419.70000000000005" font-size="10.3" text-anchor="end" font-weight="normal" fill="#111" >0</text>
<line x1="515.2" y1="382.1" x2="519.2" y2="382.1" stroke="#000" stroke-width="1.0" />
<text x="511.80000000000007" y="385.70000000000005" font-size="10.3" text-anchor="end" font-weight="normal" fill="#111" >5</text>
<line x1="515.2" y1="348.7" x2="519.2" y2="348.7" stroke="#000" stroke-width="1.0" />
<text x="511.80000000000007" y="352.3" font-size="10.3" text-anchor="end" font-weight="normal" fill="#111" >10</text>
<line x1="515.2" y1="315.6" x2="519.2" y2="315.6" stroke="#000" stroke-width="1.0" />
<text x="511.80000000000007" y="319.20000000000005" font-size="10.3" text-anchor="end" font-weight="normal" fill="#111" >15</text>
<line x1="518.3000000000001" y1="416.1" x2="678" y2="416.1" stroke="#000" stroke-width="1.8" />
<line x1="519.3" y1="416.1" x2="519.3" y2="420.1" stroke="#000" stroke-width="1.0" />
<text x="519.3" y="431.6" font-size="10.3" text-anchor="middle" font-weight="normal" fill="#111" >0.0</text>
<line x1="598.7" y1="416.1" x2="598.7" y2="420.1" stroke="#000" stroke-width="1.0" />
<text x="598.7" y="431.6" font-size="10.3" text-anchor="middle" font-weight="normal" fill="#111" >0.4</text>
<line x1="677.9" y1="416.1" x2="677.9" y2="420.1" stroke="#000" stroke-width="1.0" />
<text x="677.9" y="431.6" font-size="10.3" text-anchor="middle" font-weight="normal" fill="#111" >0.8</text>
<text x="494.6" y="351.1" font-size="12" text-anchor="middle" fill="#111" transform="rotate(-90 494.6 351.1)">r<tspan font-size="7.5" dy="1.5">h</tspan><tspan dy="-1.5"> (μM)</tspan></text>
<text x="598.5" y="446.6" font-size="11.7" text-anchor="middle" fill="#111">Damage rate (min<tspan font-size="8" dy="-4.5">−1</tspan><tspan dy="4.5">)</tspan></text>
<defs><linearGradient id="gP" x1="0" x2="1"><stop offset="0" stop-color="#8a5cb0"/><stop offset="1" stop-color="#dcb2f7"/></linearGradient><linearGradient id="gT" x1="0" x2="1"><stop offset="0" stop-color="#28786e"/><stop offset="1" stop-color="#80efe6"/></linearGradient><linearGradient id="gR" x1="0" x2="1"><stop offset="0" stop-color="#ad4040"/><stop offset="1" stop-color="#f29292"/></linearGradient></defs>
<rect x="644.8" y="177.9" width="23.4" height="8" fill="#c4c4c4"/>
<text x="657.2" y="195.1" font-size="9.5" text-anchor="middle" font-weight="normal" fill="#111" >no inhibition</text>
<rect x="644.8" y="200" width="24" height="7.9" fill="url(#gP)"/>
<rect x="644.8" y="209.2" width="24" height="8.4" fill="url(#gT)"/>
<rect x="644.8" y="219" width="24" height="7.8" fill="url(#gR)"/>
<line x1="645.5" y1="230" x2="665" y2="230" stroke="#222" stroke-width="0.9" />
<path d="M668.5,230 L664,228.2 L664,231.8 Z" stroke="none" stroke-width="1" fill="#222" />
<text x="657.8" y="239.2" font-size="9.3" text-anchor="middle" font-weight="normal" fill="#111" >increasing</text>
<text x="657.8" y="250.2" font-size="9.3" text-anchor="middle" font-weight="normal" fill="#111" >inhibition</text>
<path d="M206.20,48.90 C206.58,48.93 207.76,49.25 208.46,49.08 C209.16,48.91 209.74,48.27 210.40,47.90 C211.06,47.53 211.70,47.11 212.40,46.84 C213.10,46.57 213.89,46.25 214.60,46.30 C215.31,46.35 215.95,47.10 216.65,47.15 C217.35,47.20 218.16,46.89 218.80,46.60 C219.44,46.31 219.87,45.72 220.47,45.40 C221.07,45.09 221.75,44.74 222.40,44.70 C223.05,44.66 223.73,45.23 224.34,45.14 C224.96,45.06 225.44,44.27 226.10,44.20 C226.76,44.13 227.60,44.47 228.30,44.74 C229.00,45.01 229.67,45.34 230.30,45.80 C230.93,46.26 231.39,47.13 232.09,47.48 C232.79,47.83 233.74,47.83 234.50,47.90 C235.26,47.97 235.93,47.79 236.63,47.87 C237.33,47.96 238.32,48.03 238.70,48.40 C239.08,48.77 238.64,49.63 238.90,50.07 C239.17,50.50 239.81,50.52 240.30,51.00 C240.79,51.48 241.40,52.25 241.84,52.95 C242.27,53.65 243.00,54.53 242.90,55.20 C242.80,55.87 241.57,56.29 241.22,56.99 C240.87,57.69 241.20,58.78 240.80,59.40 C240.40,60.02 239.53,60.35 238.83,60.70 C238.13,61.05 237.29,61.29 236.60,61.50 C235.91,61.71 235.17,61.62 234.66,61.97 C234.14,62.32 234.02,63.06 233.50,63.60 C232.98,64.14 232.25,64.74 231.55,65.19 C230.85,65.64 229.94,65.97 229.30,66.30 C228.66,66.63 228.06,66.73 227.71,67.16 C227.36,67.59 227.58,68.75 227.20,68.90 C226.82,69.05 225.98,68.43 225.45,68.08 C224.91,67.73 224.66,67.17 224.00,66.80 C223.34,66.43 222.33,65.94 221.47,65.85 C220.60,65.77 219.70,66.31 218.80,66.30 C217.90,66.29 216.95,66.03 216.07,65.77 C215.19,65.50 214.10,65.23 213.50,64.70 C212.90,64.17 212.97,63.15 212.45,62.61 C211.94,62.08 210.88,62.11 210.40,61.50 C209.92,60.89 209.76,59.82 209.58,58.96 C209.39,58.09 209.42,57.15 209.30,56.30 C209.18,55.45 209.23,54.59 208.88,53.89 C208.53,53.19 207.61,52.65 207.20,52.10 C206.79,51.55 206.60,51.12 206.43,50.58 C206.27,50.05 206.24,49.18 206.20,48.90 Z" stroke="#8666ad" stroke-width="1.0" fill="#b99bd7" />
<text x="224.6" y="59.4" font-size="8.6" text-anchor="middle" fill="#7d5aa2">RtcB</text>
<path d="M243.00,39.40 C243.48,38.75 244.42,36.48 245.90,35.50 C247.38,34.52 250.07,33.67 251.90,33.50 C253.73,33.33 254.92,33.43 256.90,34.50 C258.88,35.57 261.48,37.83 263.80,39.90 C266.12,41.97 269.32,45.28 270.80,46.90 C272.28,48.52 272.47,48.70 272.70,49.60 C272.93,50.50 273.02,50.60 272.20,52.30 C271.38,54.00 269.53,57.23 267.80,59.80 C266.07,62.37 263.45,65.88 261.80,67.70 C260.15,69.52 259.38,70.25 257.90,70.70 C256.42,71.15 253.98,70.87 252.90,70.40 C251.82,69.93 251.23,68.60 251.40,67.90 C251.57,67.20 252.82,66.90 253.90,66.20 C254.98,65.50 256.83,64.77 257.90,63.70 C258.97,62.63 259.98,61.20 260.30,59.80 C260.62,58.40 260.28,56.72 259.80,55.30 C259.32,53.88 258.22,52.53 257.40,51.30 C256.58,50.07 255.57,49.13 254.90,47.90 C254.23,46.67 254.07,44.98 253.40,43.90 C252.73,42.82 252.15,41.90 250.90,41.40 C249.65,40.90 247.13,40.93 245.90,40.90 C244.67,40.87 243.98,41.45 243.50,41.20 C243.02,40.95 243.08,39.70 243.00,39.40 Z" stroke="none" stroke-width="1" fill="#7b5b9b" />
<line x1="245.89999999999998" y1="57.5" x2="251.5" y2="57.5" stroke="#111" stroke-width="1.25" />
<line x1="248.7" y1="54.7" x2="248.7" y2="60.3" stroke="#111" stroke-width="1.25" />
<text x="225" y="76" font-size="8.4" text-anchor="middle" font-weight="normal" fill="#000" >Free</text>
<text x="225" y="83.6" font-size="8.6" text-anchor="middle" font-weight="normal" fill="#000" >(active)</text>
<text x="251" y="134.3" font-size="8.6" text-anchor="middle" font-weight="normal" fill="#000" >Bound</text>
<text x="250.5" y="142.2" font-size="8.8" text-anchor="middle" font-weight="normal" fill="#000" >(inactive)</text>
<text x="243.3" y="26.5" font-size="10.3" text-anchor="middle" font-weight="normal" fill="#111" >Rtc inhibition</text>
<path d="M245.29999999999998,84.4 L245.29999999999998,70.8 L243.5,73.8" stroke="#8a8a8a" stroke-width="1.1" fill="none"/>
<path d="M247.1,70.3 L247.1,83.9 L248.89999999999998,80.9" stroke="#8a8a8a" stroke-width="1.1" fill="none"/>
<path d="M234.60,102.50 C234.60,101.20 234.37,96.65 234.60,94.70 C234.83,92.75 235.20,91.77 236.00,90.80 C236.80,89.83 237.37,89.30 239.40,88.90 C241.43,88.50 244.63,88.40 248.20,88.40 C251.77,88.40 258.13,88.50 260.80,88.90 C263.47,89.30 263.38,89.67 264.20,90.80 C265.02,91.93 265.30,93.60 265.70,95.70 C266.10,97.80 266.37,100.48 266.60,103.40 C266.83,106.32 267.25,110.93 267.10,113.20 C266.95,115.47 266.58,116.03 265.70,117.00 C264.82,117.97 262.93,118.83 261.80,119.00 C260.67,119.17 259.47,118.65 258.90,118.00 C258.33,117.35 258.88,116.43 258.40,115.10 C257.92,113.77 257.40,111.85 256.00,110.00 C254.60,108.15 253.57,105.25 250.00,104.00 C246.43,102.75 237.17,102.75 234.60,102.50 Z" stroke="none" stroke-width="1" fill="#7b5b9b" />
<path d="M223.90,104.90 C224.32,104.93 225.64,105.25 226.44,105.09 C227.24,104.92 228.01,104.22 228.70,103.90 C229.39,103.58 229.94,103.33 230.59,103.18 C231.24,103.03 231.87,103.00 232.60,103.00 C233.33,103.00 234.22,103.35 234.96,103.18 C235.69,103.02 236.36,102.44 237.00,102.00 C237.64,101.56 238.15,100.93 238.80,100.51 C239.45,100.10 240.24,99.63 240.90,99.50 C241.56,99.37 242.21,99.88 242.78,99.73 C243.35,99.58 243.70,98.67 244.30,98.60 C244.90,98.53 245.72,98.98 246.37,99.30 C247.02,99.61 247.62,100.03 248.20,100.50 C248.78,100.97 249.18,101.79 249.83,102.12 C250.48,102.46 251.31,102.37 252.10,102.50 C252.89,102.63 253.78,102.70 254.58,102.93 C255.38,103.16 256.45,103.40 256.90,103.90 C257.35,104.40 256.96,105.39 257.30,105.95 C257.63,106.52 258.39,106.78 258.90,107.30 C259.41,107.82 259.94,108.45 260.34,109.10 C260.74,109.75 261.40,110.67 261.30,111.20 C261.20,111.73 260.08,111.78 259.76,112.27 C259.45,112.75 259.80,113.51 259.40,114.10 C259.00,114.69 258.09,115.30 257.35,115.78 C256.62,116.27 255.77,116.73 255.00,117.00 C254.23,117.27 253.38,117.04 252.73,117.38 C252.08,117.71 251.67,118.45 251.10,119.00 C250.53,119.55 249.97,120.19 249.32,120.67 C248.67,121.16 247.88,121.54 247.20,121.90 C246.52,122.26 245.74,122.37 245.26,122.86 C244.77,123.34 244.73,124.64 244.30,124.80 C243.87,124.96 243.15,124.22 242.67,123.82 C242.19,123.42 242.01,122.79 241.40,122.40 C240.79,122.01 239.84,121.54 239.02,121.45 C238.20,121.37 237.42,121.94 236.50,121.90 C235.58,121.86 234.48,121.53 233.51,121.22 C232.55,120.90 231.32,120.60 230.70,120.00 C230.08,119.40 230.30,118.28 229.81,117.63 C229.33,116.98 228.26,116.75 227.80,116.10 C227.34,115.45 227.19,114.52 227.03,113.71 C226.86,112.89 226.89,111.99 226.80,111.20 C226.71,110.41 226.80,109.59 226.48,108.94 C226.16,108.29 225.29,107.76 224.90,107.30 C224.51,106.84 224.31,106.61 224.14,106.21 C223.97,105.81 223.94,105.12 223.90,104.90 Z" stroke="#fff" stroke-width="3.2" fill="#b99bd7" />
<path d="M223.90,104.90 C224.32,104.93 225.64,105.25 226.44,105.09 C227.24,104.92 228.01,104.22 228.70,103.90 C229.39,103.58 229.94,103.33 230.59,103.18 C231.24,103.03 231.87,103.00 232.60,103.00 C233.33,103.00 234.22,103.35 234.96,103.18 C235.69,103.02 236.36,102.44 237.00,102.00 C237.64,101.56 238.15,100.93 238.80,100.51 C239.45,100.10 240.24,99.63 240.90,99.50 C241.56,99.37 242.21,99.88 242.78,99.73 C243.35,99.58 243.70,98.67 244.30,98.60 C244.90,98.53 245.72,98.98 246.37,99.30 C247.02,99.61 247.62,100.03 248.20,100.50 C248.78,100.97 249.18,101.79 249.83,102.12 C250.48,102.46 251.31,102.37 252.10,102.50 C252.89,102.63 253.78,102.70 254.58,102.93 C255.38,103.16 256.45,103.40 256.90,103.90 C257.35,104.40 256.96,105.39 257.30,105.95 C257.63,106.52 258.39,106.78 258.90,107.30 C259.41,107.82 259.94,108.45 260.34,109.10 C260.74,109.75 261.40,110.67 261.30,111.20 C261.20,111.73 260.08,111.78 259.76,112.27 C259.45,112.75 259.80,113.51 259.40,114.10 C259.00,114.69 258.09,115.30 257.35,115.78 C256.62,116.27 255.77,116.73 255.00,117.00 C254.23,117.27 253.38,117.04 252.73,117.38 C252.08,117.71 251.67,118.45 251.10,119.00 C250.53,119.55 249.97,120.19 249.32,120.67 C248.67,121.16 247.88,121.54 247.20,121.90 C246.52,122.26 245.74,122.37 245.26,122.86 C244.77,123.34 244.73,124.64 244.30,124.80 C243.87,124.96 243.15,124.22 242.67,123.82 C242.19,123.42 242.01,122.79 241.40,122.40 C240.79,122.01 239.84,121.54 239.02,121.45 C238.20,121.37 237.42,121.94 236.50,121.90 C235.58,121.86 234.48,121.53 233.51,121.22 C232.55,120.90 231.32,120.60 230.70,120.00 C230.08,119.40 230.30,118.28 229.81,117.63 C229.33,116.98 228.26,116.75 227.80,116.10 C227.34,115.45 227.19,114.52 227.03,113.71 C226.86,112.89 226.89,111.99 226.80,111.20 C226.71,110.41 226.80,109.59 226.48,108.94 C226.16,108.29 225.29,107.76 224.90,107.30 C224.51,106.84 224.31,106.61 224.14,106.21 C223.97,105.81 223.94,105.12 223.90,104.90 Z" stroke="#8666ad" stroke-width="1.0" fill="#b99bd7" />
<text x="242.2" y="114.3" font-size="8.6" text-anchor="middle" fill="#7d5aa2">RtcB</text>
<g transform="translate(140.8,32.7) scale(0.9,1.02) translate(-206.2,-44.2)">
<path d="M206.20,48.90 C206.58,48.93 207.76,49.25 208.46,49.08 C209.16,48.91 209.74,48.27 210.40,47.90 C211.06,47.53 211.70,47.11 212.40,46.84 C213.10,46.57 213.89,46.25 214.60,46.30 C215.31,46.35 215.95,47.10 216.65,47.15 C217.35,47.20 218.16,46.89 218.80,46.60 C219.44,46.31 219.87,45.72 220.47,45.40 C221.07,45.09 221.75,44.74 222.40,44.70 C223.05,44.66 223.73,45.23 224.34,45.14 C224.96,45.06 225.44,44.27 226.10,44.20 C226.76,44.13 227.60,44.47 228.30,44.74 C229.00,45.01 229.67,45.34 230.30,45.80 C230.93,46.26 231.39,47.13 232.09,47.48 C232.79,47.83 233.74,47.83 234.50,47.90 C235.26,47.97 235.93,47.79 236.63,47.87 C237.33,47.96 238.32,48.03 238.70,48.40 C239.08,48.77 238.64,49.63 238.90,50.07 C239.17,50.50 239.81,50.52 240.30,51.00 C240.79,51.48 241.40,52.25 241.84,52.95 C242.27,53.65 243.00,54.53 242.90,55.20 C242.80,55.87 241.57,56.29 241.22,56.99 C240.87,57.69 241.20,58.78 240.80,59.40 C240.40,60.02 239.53,60.35 238.83,60.70 C238.13,61.05 237.29,61.29 236.60,61.50 C235.91,61.71 235.17,61.62 234.66,61.97 C234.14,62.32 234.02,63.06 233.50,63.60 C232.98,64.14 232.25,64.74 231.55,65.19 C230.85,65.64 229.94,65.97 229.30,66.30 C228.66,66.63 228.06,66.73 227.71,67.16 C227.36,67.59 227.58,68.75 227.20,68.90 C226.82,69.05 225.98,68.43 225.45,68.08 C224.91,67.73 224.66,67.17 224.00,66.80 C223.34,66.43 222.33,65.94 221.47,65.85 C220.60,65.77 219.70,66.31 218.80,66.30 C217.90,66.29 216.95,66.03 216.07,65.77 C215.19,65.50 214.10,65.23 213.50,64.70 C212.90,64.17 212.97,63.15 212.45,62.61 C211.94,62.08 210.88,62.11 210.40,61.50 C209.92,60.89 209.76,59.82 209.58,58.96 C209.39,58.09 209.42,57.15 209.30,56.30 C209.18,55.45 209.23,54.59 208.88,53.89 C208.53,53.19 207.61,52.65 207.20,52.10 C206.79,51.55 206.60,51.12 206.43,50.58 C206.27,50.05 206.24,49.18 206.20,48.90 Z" stroke="#8666ad" stroke-width="1.0" fill="#b99bd7" />
</g>
<text x="158.7" y="47.6" font-size="8.8" text-anchor="middle" fill="#7d5aa2">RtcB</text>
<path d="M171.8,32.7 L177.6,32.7 L177.6,50.5 L182.9,50.5 L175.10000000000002,63.3 L167.3,50.5 L171.8,50.5 Z" stroke="none" stroke-width="1" fill="#c53a26" />
<path d="M243.85,179.08 Q250.13,185.82 241.20,188.92 Q239.53,197.75 231.40,193.10 Q223.03,197.37 221.82,188.47 Q213.06,184.96 219.68,178.52 Q217.13,169.87 226.59,170.74 Q232.16,163.46 237.35,170.99 Q246.85,170.56 243.85,179.08 Z" stroke="#2b8078" stroke-width="0.9" fill="#4aa59d" />
<text x="231.8" y="185.3" font-size="8.6" text-anchor="middle" fill="#2e7f78">RtcR</text>
<path d="M250.90,166.80 C251.83,166.27 254.65,164.48 256.50,163.60 C258.35,162.72 259.83,161.82 262.00,161.50 C264.17,161.18 267.80,161.35 269.50,161.70 C271.20,162.05 271.67,162.37 272.20,163.60 C272.73,164.83 272.85,166.17 272.70,169.10 C272.55,172.03 271.68,177.18 271.30,181.20 C270.92,185.22 270.70,190.27 270.40,193.20 C270.10,196.13 270.90,197.72 269.50,198.80 C268.10,199.88 264.32,199.70 262.00,199.70 C259.68,199.70 256.52,199.42 255.60,198.80 C254.68,198.18 255.43,196.85 256.50,196.00 C257.57,195.15 260.62,194.78 262.00,193.70 C263.38,192.62 264.33,190.97 264.80,189.50 C265.27,188.03 264.63,186.45 264.80,184.90 C264.97,183.35 265.80,181.75 265.80,180.20 C265.80,178.65 265.73,176.83 264.80,175.60 C263.87,174.37 261.43,173.88 260.20,172.80 C258.97,171.72 258.63,169.95 257.40,169.10 C256.17,168.25 253.88,168.08 252.80,167.70 C251.72,167.32 251.22,166.95 250.90,166.80 Z" stroke="#2b8078" stroke-width="0.5" fill="#4aa69e" />
<line x1="248.6" y1="182.6" x2="254.20000000000002" y2="182.6" stroke="#111" stroke-width="1.25" />
<line x1="251.4" y1="179.79999999999998" x2="251.4" y2="185.4" stroke="#111" stroke-width="1.25" />
<text x="231.4" y="204.6" font-size="8.4" text-anchor="middle" font-weight="normal" fill="#000" >Free</text>
<text x="231.4" y="212.8" font-size="8.6" text-anchor="middle" font-weight="normal" fill="#000" >(active)</text>
<path d="M250.1,217.5 L250.1,203.0 L248.3,206.0" stroke="#8a8a8a" stroke-width="1.1" fill="none"/>
<path d="M251.9,202.5 L251.9,217.0 L253.7,214.0" stroke="#8a8a8a" stroke-width="1.1" fill="none"/>
<path d="M243.00,223.00 C243.83,222.67 246.00,221.45 248.00,221.00 C250.00,220.55 252.67,220.38 255.00,220.30 C257.33,220.22 260.42,220.05 262.00,220.50 C263.58,220.95 264.15,220.58 264.50,223.00 C264.85,225.42 264.27,230.50 264.10,235.00 C263.93,239.50 263.77,246.18 263.50,250.00 C263.23,253.82 263.75,256.57 262.50,257.90 C261.25,259.23 258.25,258.07 256.00,258.00 C253.75,257.93 250.00,258.17 249.00,257.50 C248.00,256.83 249.33,255.25 250.00,254.00 C250.67,252.75 252.17,252.33 253.00,250.00 C253.83,247.67 255.00,243.33 255.00,240.00 C255.00,236.67 254.17,232.33 253.00,230.00 C251.83,227.67 249.67,227.17 248.00,226.00 C246.33,224.83 243.83,223.50 243.00,223.00 Z" stroke="#2b8078" stroke-width="0.5" fill="#4aa69e" />
<path d="M254.65,239.86 Q260.67,247.17 252.00,250.62 Q250.22,260.04 242.20,255.20 Q233.96,259.63 232.62,250.13 Q224.12,246.24 230.48,239.25 Q228.13,229.97 237.39,230.74 Q242.96,223.05 248.15,231.01 Q257.44,230.71 254.65,239.86 Z" stroke="#fff" stroke-width="3" fill="#4aa59d"/>
<path d="M254.65,239.86 Q260.67,247.17 252.00,250.62 Q250.22,260.04 242.20,255.20 Q233.96,259.63 232.62,250.13 Q224.12,246.24 230.48,239.25 Q228.13,229.97 237.39,230.74 Q242.96,223.05 248.15,231.01 Q257.44,230.71 254.65,239.86 Z" stroke="#2b8078" stroke-width="0.9" fill="#4aa59d" />
<text x="242.5" y="246.3" font-size="8.6" text-anchor="middle" fill="#2e7f78">RtcR</text>
<text x="244.6" y="266.5" font-size="8.6" text-anchor="middle" font-weight="normal" fill="#000" >Bound</text>
<text x="244.6" y="274.9" font-size="8.8" text-anchor="middle" font-weight="normal" fill="#000" >(inactive)</text>
<path d="M178.66,169.28 Q184.54,176.22 176.77,180.00 Q175.71,189.59 168.28,185.00 Q161.07,190.02 159.58,180.51 Q151.65,177.18 157.22,169.91 Q154.55,160.74 162.98,161.19 Q167.57,153.08 172.52,160.91 Q180.92,159.97 178.66,169.28 Z" stroke="#2b8078" stroke-width="0.9" fill="#4aa59d" />
<text x="169.7" y="174.9" font-size="8.7" text-anchor="middle" fill="#2e7f78">RtcR</text>
<path d="M181.1,159.4 L186.2,159.4 L186.2,177 L190.8,177 L183.60000000000002,189.6 L176.4,177 L181.1,177 Z" stroke="none" stroke-width="1" fill="#c53a26" />
<path d="M218.20,312.70 C218.63,312.62 220.01,312.60 220.76,312.23 C221.51,311.86 221.83,310.93 222.70,310.50 C223.57,310.07 224.85,309.86 225.95,309.67 C227.05,309.49 228.43,309.16 229.30,309.40 C230.17,309.64 230.45,310.76 231.19,311.13 C231.92,311.49 233.18,311.07 233.70,311.60 C234.22,312.13 234.18,313.40 234.28,314.32 C234.38,315.24 234.07,316.19 234.30,317.10 C234.53,318.01 235.04,319.02 235.67,319.76 C236.30,320.49 237.30,320.97 238.10,321.50 C238.90,322.03 239.73,322.38 240.47,322.93 C241.20,323.48 242.09,323.99 242.50,324.80 C242.91,325.61 242.58,326.89 242.95,327.81 C243.32,328.73 244.46,329.60 244.70,330.30 C244.94,331.00 244.60,331.49 244.42,332.04 C244.23,332.59 244.08,333.24 243.60,333.60 C243.12,333.96 242.10,333.79 241.55,334.18 C241.00,334.56 240.95,335.43 240.30,335.90 C239.65,336.37 238.54,336.70 237.63,336.97 C236.71,337.24 235.71,337.62 234.80,337.50 C233.89,337.38 233.10,336.45 232.19,336.26 C231.27,336.08 230.25,336.47 229.30,336.40 C228.35,336.33 227.38,336.10 226.47,335.82 C225.55,335.53 224.78,335.13 223.80,334.70 C222.82,334.27 221.73,333.49 220.61,333.22 C219.50,332.95 218.12,333.31 217.10,333.10 C216.08,332.89 215.33,332.41 214.51,331.94 C213.69,331.48 212.57,330.84 212.20,330.30 C211.83,329.76 212.48,329.14 212.30,328.69 C212.11,328.24 211.11,328.13 211.10,327.60 C211.09,327.07 211.77,326.14 212.22,325.49 C212.67,324.84 213.25,324.31 213.80,323.70 C214.35,323.09 215.16,322.55 215.53,321.81 C215.89,321.08 215.87,320.06 216.00,319.30 C216.13,318.54 216.10,317.92 216.28,317.27 C216.46,316.62 216.76,315.89 217.10,315.40 C217.44,314.91 218.11,314.76 218.30,314.31 C218.48,313.86 218.22,312.97 218.20,312.70 Z" stroke="#c25656" stroke-width="1.0" fill="#e27c7c" />
<text x="227.2" y="328.3" font-size="8.6" text-anchor="middle" fill="#b84c4c">RtcA</text>
<path d="M241.50,302.70 C242.05,302.25 243.50,300.55 244.80,300.00 C246.10,299.45 247.45,299.03 249.30,299.40 C251.15,299.77 253.33,300.90 255.90,302.20 C258.47,303.50 262.50,305.63 264.70,307.20 C266.90,308.77 268.08,310.23 269.10,311.60 C270.12,312.97 270.70,314.02 270.80,315.40 C270.90,316.78 270.35,317.78 269.70,319.90 C269.05,322.02 267.92,325.25 266.90,328.10 C265.88,330.95 264.60,334.78 263.60,337.00 C262.60,339.22 261.82,340.48 260.90,341.40 C259.98,342.32 259.48,342.58 258.10,342.50 C256.72,342.42 253.88,341.55 252.60,340.90 C251.32,340.25 250.40,339.17 250.40,338.60 C250.40,338.03 251.42,337.95 252.60,337.50 C253.78,337.05 256.30,336.72 257.50,335.90 C258.70,335.08 259.42,333.90 259.80,332.60 C260.18,331.30 260.18,329.48 259.80,328.10 C259.42,326.72 258.33,325.67 257.50,324.30 C256.67,322.93 255.17,321.28 254.80,319.90 C254.43,318.52 255.17,317.38 255.30,316.00 C255.43,314.62 255.87,312.88 255.60,311.60 C255.33,310.32 254.93,309.32 253.70,308.30 C252.47,307.28 249.87,306.15 248.20,305.50 C246.53,304.85 244.82,304.87 243.70,304.40 C242.58,303.93 241.87,302.98 241.50,302.70 Z" stroke="none" stroke-width="1" fill="#a33d3d" />
<line x1="245.29999999999998" y1="322.2" x2="250.9" y2="322.2" stroke="#111" stroke-width="1.25" />
<line x1="248.1" y1="319.4" x2="248.1" y2="325.0" stroke="#111" stroke-width="1.25" />
<text x="227.8" y="344.7" font-size="8.4" text-anchor="middle" font-weight="normal" fill="#000" >Free</text>
<text x="228" y="352.6" font-size="8.6" text-anchor="middle" font-weight="normal" fill="#000" >(active)</text>
<path d="M245.9,353.5 L245.9,339.9 L244.10000000000002,342.9" stroke="#8a8a8a" stroke-width="1.1" fill="none"/>
<path d="M247.70000000000002,339.4 L247.70000000000002,353.0 L249.5,350.0" stroke="#8a8a8a" stroke-width="1.1" fill="none"/>
<path d="M231.80,370.00 C231.92,368.67 231.80,363.75 232.50,362.00 C233.20,360.25 233.92,360.03 236.00,359.50 C238.08,358.97 241.33,358.80 245.00,358.80 C248.67,358.80 254.92,358.97 258.00,359.50 C261.08,360.03 262.28,360.25 263.50,362.00 C264.72,363.75 265.00,366.17 265.30,370.00 C265.60,373.83 265.43,381.00 265.30,385.00 C265.17,389.00 265.05,392.03 264.50,394.00 C263.95,395.97 263.25,396.47 262.00,396.80 C260.75,397.13 258.17,396.80 257.00,396.00 C255.83,395.20 255.83,394.67 255.00,392.00 C254.17,389.33 253.50,383.33 252.00,380.00 C250.50,376.67 248.33,374.00 246.00,372.00 C243.67,370.00 240.37,368.33 238.00,368.00 C235.63,367.67 232.83,369.67 231.80,370.00 Z" stroke="none" stroke-width="1" fill="#a33d3d" />
<g>
<path d="M230.80,369.70 C231.23,369.62 232.61,369.60 233.36,369.23 C234.11,368.86 234.43,367.93 235.30,367.50 C236.17,367.07 237.45,366.86 238.55,366.67 C239.65,366.49 241.03,366.16 241.90,366.40 C242.77,366.64 243.05,367.76 243.79,368.13 C244.52,368.49 245.78,368.07 246.30,368.60 C246.82,369.13 246.78,370.40 246.88,371.32 C246.98,372.24 246.67,373.19 246.90,374.10 C247.13,375.01 247.64,376.02 248.27,376.76 C248.90,377.49 249.90,377.97 250.70,378.50 C251.50,379.03 252.33,379.38 253.07,379.93 C253.80,380.48 254.69,380.99 255.10,381.80 C255.51,382.61 255.18,383.89 255.55,384.81 C255.92,385.73 257.06,386.60 257.30,387.30 C257.54,388.00 257.20,388.49 257.02,389.04 C256.83,389.59 256.68,390.24 256.20,390.60 C255.72,390.96 254.70,390.79 254.15,391.18 C253.60,391.56 253.55,392.43 252.90,392.90 C252.25,393.37 251.14,393.70 250.23,393.97 C249.31,394.24 248.31,394.62 247.40,394.50 C246.49,394.38 245.70,393.45 244.79,393.26 C243.87,393.08 242.85,393.47 241.90,393.40 C240.95,393.33 239.98,393.10 239.07,392.82 C238.15,392.53 237.38,392.13 236.40,391.70 C235.42,391.27 234.33,390.49 233.21,390.22 C232.10,389.95 230.72,390.31 229.70,390.10 C228.68,389.89 227.93,389.41 227.11,388.94 C226.29,388.48 225.17,387.84 224.80,387.30 C224.43,386.76 225.08,386.14 224.90,385.69 C224.71,385.24 223.71,385.13 223.70,384.60 C223.69,384.07 224.37,383.14 224.82,382.49 C225.27,381.84 225.85,381.31 226.40,380.70 C226.95,380.09 227.76,379.55 228.13,378.81 C228.49,378.08 228.47,377.06 228.60,376.30 C228.73,375.54 228.70,374.92 228.88,374.27 C229.06,373.62 229.36,372.89 229.70,372.40 C230.04,371.91 230.71,371.76 230.90,371.31 C231.08,370.86 230.82,369.97 230.80,369.70 Z" stroke="#fff" stroke-width="3.2" fill="#e27c7c" />
<path d="M230.80,369.70 C231.23,369.62 232.61,369.60 233.36,369.23 C234.11,368.86 234.43,367.93 235.30,367.50 C236.17,367.07 237.45,366.86 238.55,366.67 C239.65,366.49 241.03,366.16 241.90,366.40 C242.77,366.64 243.05,367.76 243.79,368.13 C244.52,368.49 245.78,368.07 246.30,368.60 C246.82,369.13 246.78,370.40 246.88,371.32 C246.98,372.24 246.67,373.19 246.90,374.10 C247.13,375.01 247.64,376.02 248.27,376.76 C248.90,377.49 249.90,377.97 250.70,378.50 C251.50,379.03 252.33,379.38 253.07,379.93 C253.80,380.48 254.69,380.99 255.10,381.80 C255.51,382.61 255.18,383.89 255.55,384.81 C255.92,385.73 257.06,386.60 257.30,387.30 C257.54,388.00 257.20,388.49 257.02,389.04 C256.83,389.59 256.68,390.24 256.20,390.60 C255.72,390.96 254.70,390.79 254.15,391.18 C253.60,391.56 253.55,392.43 252.90,392.90 C252.25,393.37 251.14,393.70 250.23,393.97 C249.31,394.24 248.31,394.62 247.40,394.50 C246.49,394.38 245.70,393.45 244.79,393.26 C243.87,393.08 242.85,393.47 241.90,393.40 C240.95,393.33 239.98,393.10 239.07,392.82 C238.15,392.53 237.38,392.13 236.40,391.70 C235.42,391.27 234.33,390.49 233.21,390.22 C232.10,389.95 230.72,390.31 229.70,390.10 C228.68,389.89 227.93,389.41 227.11,388.94 C226.29,388.48 225.17,387.84 224.80,387.30 C224.43,386.76 225.08,386.14 224.90,385.69 C224.71,385.24 223.71,385.13 223.70,384.60 C223.69,384.07 224.37,383.14 224.82,382.49 C225.27,381.84 225.85,381.31 226.40,380.70 C226.95,380.09 227.76,379.55 228.13,378.81 C228.49,378.08 228.47,377.06 228.60,376.30 C228.73,375.54 228.70,374.92 228.88,374.27 C229.06,373.62 229.36,372.89 229.70,372.40 C230.04,371.91 230.71,371.76 230.90,371.31 C231.08,370.86 230.82,369.97 230.80,369.70 Z" stroke="#c25656" stroke-width="1.0" fill="#e27c7c" />
</g>
<text x="239.8" y="385.3" font-size="8.6" text-anchor="middle" fill="#b84c4c">RtcA</text>
<text x="245.9" y="403.8" font-size="8.6" text-anchor="middle" font-weight="normal" fill="#000" >Bound</text>
<text x="245.9" y="411.4" font-size="8.8" text-anchor="middle" font-weight="normal" fill="#000" >(inactive)</text>
</svg></body></html>
